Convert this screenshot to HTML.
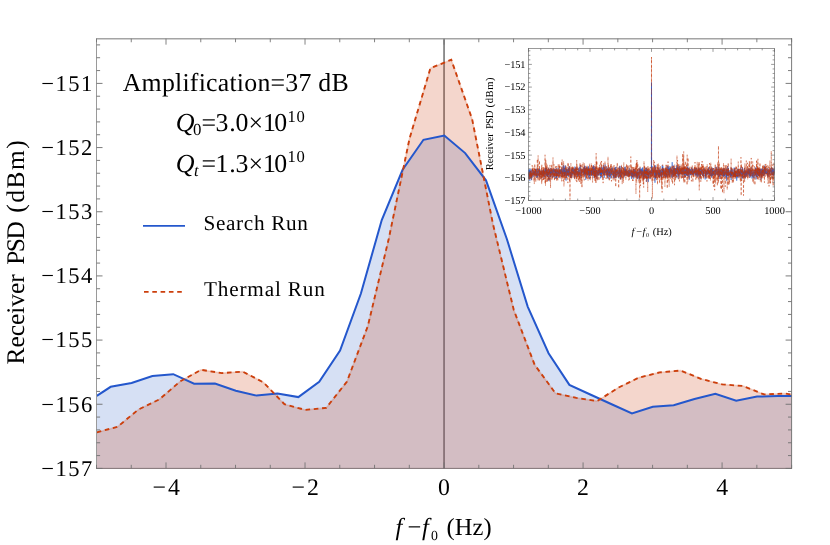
<!DOCTYPE html>
<html><head><meta charset="utf-8"><title>Receiver PSD</title>
<style>html,body{margin:0;padding:0;background:#fff;}body{width:830px;height:545px;overflow:hidden;font-family:"Liberation Serif",serif;}svg{display:block;text-rendering:geometricPrecision;}</style></head>
<body>
<div style="will-change:transform;width:830px;height:545px;">
<svg width="830" height="545" viewBox="0 0 830 545">
<rect x="0" y="0" width="830" height="545" fill="#ffffff"/>
<line x1="444.05" y1="38.65" x2="444.05" y2="468.4" stroke="#6e6e6e" stroke-width="1.5"/>
<polygon points="96.80,395.80 110.70,386.80 131.55,383.00 152.40,376.00 173.25,374.20 194.10,383.70 214.95,383.50 235.80,390.70 256.65,395.60 277.50,393.40 298.35,397.10 319.20,381.90 340.05,350.50 360.90,293.50 381.75,220.00 402.60,169.80 423.45,139.80 444.30,135.50 465.15,153.10 486.00,180.30 506.85,239.00 527.70,306.60 548.55,353.20 569.40,384.90 590.25,394.50 611.10,404.00 631.95,413.50 652.80,406.70 673.65,405.30 694.50,399.00 715.35,393.70 736.20,400.70 757.05,396.60 777.90,396.10 791.70,396.10 791.70,468.40 96.80,468.40" fill="#3264c8" fill-opacity="0.2" stroke="none"/>
<polygon points="96.80,432.40 117.65,426.70 138.50,409.50 159.35,399.40 180.20,381.40 201.05,369.80 221.90,373.10 242.75,371.60 263.60,382.50 284.45,404.20 305.30,409.90 326.15,407.90 347.00,381.50 367.85,326.00 388.70,239.00 409.55,138.50 430.40,68.30 451.25,59.70 472.10,119.00 492.95,224.00 513.80,310.00 534.65,364.80 555.50,393.30 576.35,397.90 597.20,401.10 618.05,387.80 638.90,377.60 659.75,372.40 680.60,370.50 701.45,379.00 722.30,384.40 743.15,386.00 764.00,394.40 784.85,393.50 791.70,394.50 791.70,468.40 96.80,468.40" fill="#cc3f0c" fill-opacity="0.21" stroke="none"/>
<polyline points="96.80,395.80 110.70,386.80 131.55,383.00 152.40,376.00 173.25,374.20 194.10,383.70 214.95,383.50 235.80,390.70 256.65,395.60 277.50,393.40 298.35,397.10 319.20,381.90 340.05,350.50 360.90,293.50 381.75,220.00 402.60,169.80 423.45,139.80 444.30,135.50 465.15,153.10 486.00,180.30 506.85,239.00 527.70,306.60 548.55,353.20 569.40,384.90 590.25,394.50 611.10,404.00 631.95,413.50 652.80,406.70 673.65,405.30 694.50,399.00 715.35,393.70 736.20,400.70 757.05,396.60 777.90,396.10 791.70,396.10" fill="none" stroke="#2457cc" stroke-width="2" stroke-linejoin="miter"/>
<polyline points="96.80,432.40 117.65,426.70 138.50,409.50 159.35,399.40 180.20,381.40 201.05,369.80 221.90,373.10 242.75,371.60 263.60,382.50 284.45,404.20 305.30,409.90 326.15,407.90 347.00,381.50 367.85,326.00 388.70,239.00 409.55,138.50 430.40,68.30 451.25,59.70 472.10,119.00 492.95,224.00 513.80,310.00 534.65,364.80 555.50,393.30 576.35,397.90 597.20,401.10 618.05,387.80 638.90,377.60 659.75,372.40 680.60,370.50 701.45,379.00 722.30,384.40 743.15,386.00 764.00,394.40 784.85,393.50 791.70,394.50" fill="none" stroke="#cc3f0c" stroke-opacity="0.18" stroke-width="1.6" stroke-linejoin="round"/>
<polyline points="96.80,432.40 117.65,426.70 138.50,409.50 159.35,399.40 180.20,381.40 201.05,369.80 221.90,373.10 242.75,371.60 263.60,382.50 284.45,404.20 305.30,409.90 326.15,407.90 347.00,381.50 367.85,326.00 388.70,239.00 409.55,138.50 430.40,68.30 451.25,59.70 472.10,119.00 492.95,224.00 513.80,310.00 534.65,364.80 555.50,393.30 576.35,397.90 597.20,401.10 618.05,387.80 638.90,377.60 659.75,372.40 680.60,370.50 701.45,379.00 722.30,384.40 743.15,386.00 764.00,394.40 784.85,393.50 791.70,394.50" fill="none" stroke="#cc3f0c" stroke-width="1.85" stroke-dasharray="4.6 3.7" stroke-linejoin="miter"/>
<line x1="96.5" y1="38.15" x2="96.5" y2="468.79999999999995" stroke="#9a9a9a" stroke-width="1"/>
<line x1="96.0" y1="38.699999999999996" x2="792.0" y2="38.699999999999996" stroke="#a4a4a4" stroke-width="1.4"/>
<line x1="791.6" y1="38.15" x2="791.6" y2="468.79999999999995" stroke="#6c6c6c" stroke-width="0.9"/>
<line x1="96.0" y1="468.4" x2="792.0" y2="468.4" stroke="#74666a" stroke-width="0.9"/>
<path d="M96.50,468.4v-3.6M96.50,38.65v3.6M131.25,468.4v-3.6M131.25,38.65v3.6M166.01,468.4v-6.0M166.01,38.65v6.0M200.77,468.4v-3.6M200.77,38.65v3.6M235.52,468.4v-3.6M235.52,38.65v3.6M270.27,468.4v-3.6M270.27,38.65v3.6M305.03,468.4v-6.0M305.03,38.65v6.0M339.78,468.4v-3.6M339.78,38.65v3.6M374.54,468.4v-3.6M374.54,38.65v3.6M409.30,468.4v-3.6M409.30,38.65v3.6M444.05,468.4v-6.0M444.05,38.65v6.0M478.81,468.4v-3.6M478.81,38.65v3.6M513.56,468.4v-3.6M513.56,38.65v3.6M548.32,468.4v-3.6M548.32,38.65v3.6M583.07,468.4v-6.0M583.07,38.65v6.0M617.83,468.4v-3.6M617.83,38.65v3.6M652.58,468.4v-3.6M652.58,38.65v3.6M687.34,468.4v-3.6M687.34,38.65v3.6M722.09,468.4v-6.0M722.09,38.65v6.0M756.85,468.4v-3.6M756.85,38.65v3.6M791.60,468.4v-3.6M791.60,38.65v3.6" fill="none" stroke="#747474" stroke-width="0.9"/>
<path d="M96.5,468.42h6.0M791.6,468.42h-6.0M96.5,455.59h3.6M791.6,455.59h-3.6M96.5,442.75h3.6M791.6,442.75h-3.6M96.5,429.92h3.6M791.6,429.92h-3.6M96.5,417.08h3.6M791.6,417.08h-3.6M96.5,404.25h6.0M791.6,404.25h-6.0M96.5,391.42h3.6M791.6,391.42h-3.6M96.5,378.58h3.6M791.6,378.58h-3.6M96.5,365.75h3.6M791.6,365.75h-3.6M96.5,352.91h3.6M791.6,352.91h-3.6M96.5,340.08h6.0M791.6,340.08h-6.0M96.5,327.25h3.6M791.6,327.25h-3.6M96.5,314.41h3.6M791.6,314.41h-3.6M96.5,301.58h3.6M791.6,301.58h-3.6M96.5,288.74h3.6M791.6,288.74h-3.6M96.5,275.91h6.0M791.6,275.91h-6.0M96.5,263.08h3.6M791.6,263.08h-3.6M96.5,250.24h3.6M791.6,250.24h-3.6M96.5,237.41h3.6M791.6,237.41h-3.6M96.5,224.57h3.6M791.6,224.57h-3.6M96.5,211.74h6.0M791.6,211.74h-6.0M96.5,198.91h3.6M791.6,198.91h-3.6M96.5,186.07h3.6M791.6,186.07h-3.6M96.5,173.24h3.6M791.6,173.24h-3.6M96.5,160.40h3.6M791.6,160.40h-3.6M96.5,147.57h6.0M791.6,147.57h-6.0M96.5,134.74h3.6M791.6,134.74h-3.6M96.5,121.90h3.6M791.6,121.90h-3.6M96.5,109.07h3.6M791.6,109.07h-3.6M96.5,96.23h3.6M791.6,96.23h-3.6M96.5,83.40h6.0M791.6,83.40h-6.0M96.5,70.57h3.6M791.6,70.57h-3.6M96.5,57.73h3.6M791.6,57.73h-3.6M96.5,44.90h3.6M791.6,44.90h-3.6" fill="none" stroke="#747474" stroke-width="0.95"/>
<text x="92.3" y="475.72" font-family='"Liberation Serif", serif' font-size="22.6" text-anchor="end" textLength="51" lengthAdjust="spacing" fill="#000">−157</text>
<text x="92.3" y="411.55" font-family='"Liberation Serif", serif' font-size="22.6" text-anchor="end" textLength="51" lengthAdjust="spacing" fill="#000">−156</text>
<text x="92.3" y="347.38" font-family='"Liberation Serif", serif' font-size="22.6" text-anchor="end" textLength="51" lengthAdjust="spacing" fill="#000">−155</text>
<text x="92.3" y="283.21" font-family='"Liberation Serif", serif' font-size="22.6" text-anchor="end" textLength="51" lengthAdjust="spacing" fill="#000">−154</text>
<text x="92.3" y="219.04" font-family='"Liberation Serif", serif' font-size="22.6" text-anchor="end" textLength="51" lengthAdjust="spacing" fill="#000">−153</text>
<text x="92.3" y="154.87" font-family='"Liberation Serif", serif' font-size="22.6" text-anchor="end" textLength="51" lengthAdjust="spacing" fill="#000">−152</text>
<text x="92.3" y="90.70" font-family='"Liberation Serif", serif' font-size="22.6" text-anchor="end" textLength="51" lengthAdjust="spacing" fill="#000">−151</text>
<text x="152.51 168.01" y="495.2" font-family='"Liberation Serif", serif' font-size="23.8" fill="#000">−4</text>
<text x="291.53 307.03" y="495.2" font-family='"Liberation Serif", serif' font-size="23.8" fill="#000">−2</text>
<text x="444.05" y="495.2" font-family='"Liberation Serif", serif' font-size="23.8" text-anchor="middle" fill="#000">0</text>
<text x="583.07" y="495.2" font-family='"Liberation Serif", serif' font-size="23.8" text-anchor="middle" fill="#000">2</text>
<text x="722.09" y="495.2" font-family='"Liberation Serif", serif' font-size="23.8" text-anchor="middle" fill="#000">4</text>
<g font-family='"Liberation Serif", serif' fill="#000"><text x="395.4" y="535.4" font-size="24.5" font-style="italic">f</text><text x="407.4" y="535.4" font-size="24.5">−</text><text x="422.0" y="535.4" font-size="24.5" font-style="italic">f</text><text x="431.0" y="539.7" font-size="13.8">0</text><text x="446.6" y="535.4" font-size="24.5" textLength="45" lengthAdjust="spacing">(Hz)</text></g>
<g transform="translate(23.8,364.4) rotate(-90)" font-family='"Liberation Serif", serif' font-size="25.4" fill="#000"><text x="0" y="0" textLength="90" lengthAdjust="spacing">Receiver</text><text x="99.6" y="0" textLength="43.6" lengthAdjust="spacing">PSD</text><text x="151.6" y="0" textLength="72.6" lengthAdjust="spacing">(dBm)</text></g>
<text x="122.7" y="91" font-family='"Liberation Serif", serif' font-size="25.8" textLength="226" lengthAdjust="spacing" fill="#000">Amplification=37 dB</text>
<g font-family='"Liberation Serif", serif' fill="#000"><text x="175.8" y="130.8" font-size="26" font-style="italic">Q</text><text x="192.9" y="135.4" font-size="16.8">0</text><text x="201.6 215.5 229.3 235.4 248.4 263.0 274.2" y="130.8" font-size="25.8">=3.0×10</text><text x="287.6 296.6" y="121.6" font-size="16.6">10</text></g>
<g font-family='"Liberation Serif", serif' fill="#000"><text x="175.8" y="171.5" font-size="26" font-style="italic">Q</text><text x="194.0" y="176.1" font-size="16.5" font-style="italic">t</text><text x="201.6 215.5 229.3 235.4 248.4 263.0 274.2" y="171.5" font-size="25.8">=1.3×10</text><text x="287.6 296.6" y="162.3" font-size="16.6">10</text></g>
<line x1="143" y1="225.9" x2="185" y2="225.9" stroke="#2457cc" stroke-width="1.9"/>
<text x="203.4" y="229.6" font-family='"Liberation Serif", serif' font-size="21.2" textLength="104.5" lengthAdjust="spacing" fill="#000">Search Run</text>
<line x1="144" y1="291.8" x2="185" y2="291.8" stroke="#cc3f0c" stroke-width="1.7" stroke-dasharray="4.6 3.7"/>
<text x="204" y="296.2" font-family='"Liberation Serif", serif' font-size="21.2" textLength="120.8" lengthAdjust="spacing" fill="#000">Thermal Run</text>
<polyline points="528.50,178.39 528.61,173.31 528.72,174.27 528.84,176.49 528.95,169.92 529.06,174.50 529.17,168.96 529.28,178.77 529.39,170.35 529.51,174.78 529.62,173.95 529.73,175.45 529.84,180.89 529.95,171.51 530.07,178.46 530.18,171.05 530.29,175.42 530.40,174.75 530.51,172.82 530.62,171.10 530.74,175.38 530.85,168.78 530.96,174.09 531.07,178.11 531.18,170.32 531.30,171.33 531.41,177.27 531.52,180.14 531.63,173.47 531.74,176.59 531.85,177.37 531.97,174.39 532.08,177.50 532.19,170.80 532.30,171.09 532.41,169.03 532.53,171.38 532.64,171.35 532.75,174.86 532.86,172.48 532.97,172.00 533.08,172.63 533.20,173.21 533.31,174.73 533.42,172.79 533.53,172.97 533.64,174.58 533.76,176.65 533.87,170.35 533.98,172.91 534.09,171.32 534.20,174.09 534.31,171.74 534.43,175.55 534.54,171.05 534.65,172.77 534.76,172.56 534.87,173.97 534.99,171.74 535.10,171.79 535.21,171.95 535.32,175.12 535.43,170.78 535.54,168.91 535.66,170.94 535.77,175.65 535.88,175.55 535.99,174.16 536.10,172.90 536.22,169.04 536.33,172.61 536.44,177.74 536.55,175.63 536.66,173.48 536.77,168.72 536.89,168.69 537.00,174.10 537.11,175.70 537.22,176.80 537.33,170.56 537.45,171.56 537.56,177.83 537.67,177.66 537.78,175.63 537.89,174.41 538.00,173.11 538.12,171.75 538.23,175.13 538.34,174.16 538.45,174.57 538.56,175.34 538.68,172.68 538.79,169.74 538.90,172.41 539.01,168.52 539.12,172.30 539.23,169.11 539.35,170.59 539.46,177.21 539.57,173.63 539.68,174.69 539.79,169.48 539.91,175.38 540.02,173.68 540.13,172.15 540.24,172.60 540.35,174.44 540.46,173.98 540.58,173.23 540.69,174.24 540.80,173.34 540.91,174.98 541.02,171.30 541.14,171.93 541.25,178.49 541.36,170.37 541.47,171.96 541.58,171.76 541.69,174.85 541.81,173.11 541.92,171.70 542.03,172.44 542.14,174.99 542.25,172.70 542.37,171.19 542.48,170.07 542.59,174.12 542.70,172.28 542.81,175.27 542.92,171.58 543.04,171.80 543.15,173.58 543.26,171.45 543.37,172.26 543.48,170.37 543.60,175.41 543.71,170.74 543.82,170.62 543.93,178.68 544.04,170.84 544.15,172.45 544.27,172.45 544.38,171.06 544.49,172.14 544.60,172.85 544.71,176.61 544.83,174.12 544.94,168.45 545.05,171.15 545.16,171.45 545.27,169.78 545.38,175.60 545.50,172.20 545.61,168.16 545.72,169.63 545.83,172.81 545.94,171.12 546.06,167.31 546.17,171.63 546.28,168.79 546.39,171.78 546.50,175.59 546.61,169.96 546.73,175.49 546.84,169.68 546.95,169.84 547.06,175.17 547.17,176.52 547.29,171.43 547.40,176.59 547.51,172.92 547.62,176.75 547.73,171.70 547.84,173.79 547.96,171.55 548.07,169.66 548.18,174.94 548.29,175.14 548.40,173.74 548.52,180.70 548.63,167.91 548.74,173.06 548.85,172.27 548.96,173.96 549.07,171.71 549.19,168.94 549.30,173.50 549.41,173.50 549.52,170.95 549.63,176.06 549.75,180.24 549.86,170.53 549.97,174.20 550.08,172.93 550.19,172.85 550.30,174.05 550.42,171.29 550.53,172.71 550.64,176.71 550.75,167.97 550.86,177.12 550.98,170.30 551.09,173.27 551.20,171.37 551.31,172.18 551.42,172.41 551.53,169.68 551.65,172.36 551.76,172.65 551.87,172.12 551.98,175.10 552.09,171.70 552.21,172.17 552.32,173.63 552.43,169.51 552.54,171.58 552.65,176.42 552.76,177.62 552.88,169.33 552.99,171.43 553.10,171.71 553.21,169.63 553.32,173.02 553.44,173.90 553.55,175.15 553.66,177.21 553.77,168.64 553.88,170.20 553.99,172.05 554.11,169.81 554.22,174.97 554.33,175.20 554.44,170.80 554.55,170.50 554.67,170.75 554.78,169.19 554.89,170.84 555.00,171.49 555.11,171.12 555.22,178.57 555.34,169.70 555.45,173.57 555.56,170.49 555.67,171.27 555.78,173.53 555.90,171.99 556.01,174.54 556.12,168.18 556.23,169.46 556.34,168.72 556.45,178.55 556.57,170.64 556.68,171.00 556.79,177.83 556.90,173.15 557.01,176.58 557.13,175.04 557.24,174.33 557.35,173.92 557.46,174.63 557.57,170.36 557.68,170.11 557.80,175.19 557.91,175.94 558.02,172.12 558.13,172.76 558.24,167.65 558.36,173.19 558.47,174.18 558.58,173.33 558.69,170.95 558.80,175.75 558.91,172.35 559.03,173.06 559.14,173.93 559.25,171.41 559.36,170.10 559.47,170.96 559.59,172.02 559.70,175.34 559.81,178.18 559.92,170.07 560.03,172.76 560.14,169.50 560.26,173.70 560.37,169.46 560.48,174.05 560.59,172.81 560.70,171.79 560.82,172.10 560.93,173.87 561.04,170.02 561.15,171.87 561.26,173.40 561.37,171.93 561.49,168.96 561.60,170.38 561.71,176.92 561.82,173.60 561.93,168.49 562.05,171.66 562.16,173.45 562.27,176.86 562.38,171.20 562.49,171.53 562.60,170.50 562.72,175.25 562.83,166.49 562.94,169.90 563.05,175.79 563.16,176.49 563.28,171.49 563.39,169.11 563.50,170.39 563.61,168.66 563.72,164.84 563.83,173.98 563.95,170.58 564.06,174.07 564.17,166.44 564.28,172.73 564.39,176.03 564.51,171.84 564.62,167.86 564.73,175.38 564.84,171.54 564.95,176.01 565.06,171.06 565.18,173.18 565.29,173.30 565.40,165.69 565.51,175.35 565.62,170.68 565.74,174.50 565.85,175.26 565.96,174.96 566.07,180.63 566.18,170.93 566.29,172.81 566.41,169.11 566.52,172.17 566.63,170.10 566.74,176.46 566.85,168.63 566.97,174.87 567.08,172.58 567.19,175.73 567.30,173.62 567.41,171.73 567.52,169.30 567.64,174.85 567.75,170.14 567.86,170.60 567.97,175.61 568.08,174.00 568.20,169.07 568.31,171.61 568.42,170.75 568.53,176.80 568.64,167.46 568.75,170.54 568.87,172.41 568.98,174.77 569.09,171.65 569.20,170.68 569.31,166.29 569.43,171.45 569.54,167.27 569.65,174.68 569.76,170.74 569.87,171.80 569.98,171.75 570.10,174.55 570.21,172.22 570.32,171.84 570.43,177.79 570.54,172.41 570.66,171.99 570.77,173.00 570.88,174.30 570.99,176.32 571.10,174.80 571.21,177.99 571.33,171.99 571.44,168.57 571.55,174.08 571.66,177.63 571.77,169.69 571.89,173.09 572.00,175.26 572.11,171.52 572.22,168.21 572.33,168.86 572.44,174.49 572.56,171.20 572.67,168.13 572.78,169.81 572.89,172.64 573.00,173.10 573.12,170.17 573.23,168.28 573.34,174.13 573.45,172.78 573.56,172.67 573.67,170.25 573.79,173.37 573.90,168.79 574.01,173.43 574.12,170.02 574.23,175.86 574.35,177.69 574.46,172.63 574.57,174.99 574.68,173.90 574.79,173.43 574.90,166.57 575.02,177.51 575.13,173.69 575.24,168.58 575.35,169.28 575.46,173.73 575.58,173.01 575.69,169.87 575.80,173.67 575.91,174.89 576.02,167.64 576.13,173.07 576.25,172.68 576.36,171.88 576.47,171.72 576.58,169.18 576.69,168.40 576.81,174.70 576.92,172.24 577.03,171.63 577.14,175.14 577.25,176.52 577.36,176.42 577.48,171.13 577.59,173.88 577.70,171.75 577.81,176.53 577.92,173.11 578.04,171.71 578.15,171.82 578.26,174.19 578.37,173.53 578.48,168.11 578.59,171.76 578.71,173.08 578.82,175.41 578.93,172.28 579.04,170.07 579.15,175.19 579.27,174.69 579.38,168.30 579.49,166.63 579.60,168.77 579.71,170.20 579.82,169.99 579.94,176.12 580.05,172.56 580.16,173.15 580.27,173.91 580.38,171.62 580.50,169.64 580.61,165.21 580.72,174.73 580.83,177.74 580.94,174.81 581.05,175.88 581.17,176.04 581.28,169.44 581.39,171.59 581.50,171.33 581.61,172.89 581.73,171.42 581.84,173.30 581.95,173.70 582.06,169.39 582.17,170.31 582.28,168.90 582.40,171.14 582.51,172.44 582.62,172.15 582.73,171.70 582.84,171.14 582.96,172.24 583.07,170.37 583.18,170.07 583.29,172.79 583.40,175.14 583.51,168.09 583.63,170.74 583.74,171.29 583.85,170.97 583.96,173.17 584.07,167.40 584.19,174.50 584.30,175.77 584.41,167.65 584.52,166.17 584.63,173.63 584.74,170.58 584.86,173.71 584.97,165.84 585.08,172.83 585.19,169.88 585.30,175.45 585.42,171.35 585.53,167.71 585.64,170.33 585.75,179.83 585.86,174.39 585.97,172.87 586.09,173.88 586.20,171.65 586.31,174.30 586.42,172.26 586.53,173.54 586.65,172.94 586.76,167.01 586.87,170.29 586.98,168.99 587.09,175.00 587.20,169.81 587.32,171.42 587.43,171.97 587.54,175.22 587.65,173.74 587.76,168.66 587.88,174.21 587.99,169.32 588.10,167.64 588.21,175.12 588.32,168.62 588.43,166.27 588.55,175.37 588.66,177.74 588.77,169.75 588.88,169.25 588.99,170.19 589.11,173.57 589.22,168.53 589.33,173.64 589.44,176.06 589.55,169.93 589.66,179.28 589.78,176.50 589.89,175.29 590.00,170.14 590.11,171.13 590.22,170.73 590.34,172.82 590.45,170.37 590.56,173.96 590.67,174.58 590.78,171.52 590.89,173.58 591.01,169.99 591.12,172.48 591.23,175.53 591.34,168.67 591.45,175.55 591.57,173.24 591.68,172.00 591.79,170.09 591.90,173.10 592.01,171.04 592.12,170.75 592.24,171.46 592.35,167.65 592.46,175.34 592.57,166.82 592.68,172.33 592.80,173.73 592.91,172.10 593.02,175.06 593.13,169.50 593.24,171.13 593.35,172.55 593.47,165.24 593.58,172.52 593.69,173.91 593.80,166.38 593.91,169.66 594.03,178.06 594.14,167.21 594.25,174.32 594.36,171.56 594.47,172.94 594.58,176.80 594.70,168.18 594.81,176.70 594.92,171.70 595.03,174.22 595.14,172.41 595.26,173.21 595.37,176.03 595.48,166.72 595.59,177.00 595.70,173.44 595.81,171.71 595.93,173.26 596.04,170.21 596.15,171.90 596.26,177.36 596.37,170.01 596.49,171.83 596.60,170.88 596.71,172.61 596.82,169.78 596.93,179.10 597.04,172.01 597.16,173.37 597.27,174.87 597.38,171.71 597.49,173.55 597.60,173.08 597.72,170.44 597.83,170.20 597.94,171.83 598.05,175.81 598.16,171.56 598.27,171.70 598.39,170.57 598.50,175.13 598.61,173.45 598.72,170.35 598.83,172.64 598.95,169.58 599.06,171.18 599.17,169.92 599.28,174.70 599.39,169.18 599.50,173.05 599.62,173.43 599.73,166.93 599.84,172.56 599.95,168.03 600.06,172.12 600.18,175.61 600.29,171.97 600.40,173.31 600.51,169.85 600.62,178.31 600.73,174.85 600.85,170.41 600.96,174.11 601.07,173.27 601.18,175.23 601.29,171.84 601.41,172.18 601.52,177.11 601.63,166.90 601.74,172.87 601.85,171.61 601.96,171.23 602.08,171.23 602.19,171.14 602.30,169.94 602.41,167.61 602.52,173.28 602.64,170.26 602.75,169.83 602.86,174.10 602.97,173.76 603.08,172.56 603.19,172.54 603.31,173.54 603.42,165.39 603.53,175.00 603.64,172.32 603.75,170.88 603.87,172.02 603.98,167.43 604.09,173.07 604.20,177.89 604.31,173.19 604.42,175.38 604.54,173.18 604.65,171.61 604.76,173.77 604.87,170.44 604.98,167.77 605.10,164.48 605.21,172.70 605.32,172.89 605.43,172.03 605.54,171.32 605.65,170.34 605.77,172.03 605.88,171.64 605.99,173.04 606.10,170.02 606.21,171.98 606.33,168.71 606.44,170.26 606.55,175.09 606.66,173.95 606.77,166.81 606.88,173.68 607.00,174.36 607.11,173.40 607.22,171.63 607.33,175.21 607.44,169.93 607.56,177.21 607.67,168.79 607.78,170.65 607.89,169.95 608.00,172.50 608.11,178.88 608.23,169.12 608.34,171.96 608.45,175.09 608.56,175.72 608.67,168.91 608.79,171.88 608.90,166.93 609.01,168.41 609.12,169.38 609.23,173.76 609.34,169.84 609.46,177.06 609.57,171.74 609.68,172.12 609.79,173.68 609.90,174.44 610.02,171.80 610.13,174.57 610.24,176.36 610.35,175.32 610.46,168.86 610.57,170.84 610.69,176.30 610.80,178.54 610.91,174.25 611.02,174.44 611.13,168.57 611.25,170.70 611.36,170.37 611.47,175.20 611.58,168.09 611.69,170.87 611.80,171.08 611.92,171.44 612.03,173.42 612.14,172.90 612.25,171.35 612.36,167.42 612.48,168.27 612.59,169.71 612.70,174.75 612.81,174.04 612.92,174.61 613.03,171.33 613.15,176.03 613.26,178.00 613.37,173.89 613.48,170.62 613.59,176.50 613.71,174.33 613.82,175.88 613.93,172.10 614.04,174.79 614.15,178.05 614.26,173.26 614.38,172.01 614.49,172.91 614.60,170.84 614.71,168.34 614.82,171.40 614.94,176.64 615.05,172.99 615.16,166.91 615.27,171.64 615.38,178.12 615.49,169.32 615.61,171.22 615.72,172.72 615.83,169.45 615.94,167.03 616.05,177.86 616.17,175.36 616.28,169.50 616.39,171.40 616.50,170.08 616.61,171.47 616.72,172.35 616.84,175.68 616.95,171.95 617.06,172.78 617.17,171.62 617.28,170.84 617.40,171.66 617.51,170.96 617.62,172.81 617.73,173.52 617.84,172.01 617.95,177.05 618.07,176.26 618.18,169.93 618.29,172.14 618.40,174.01 618.51,173.00 618.63,172.58 618.74,173.25 618.85,172.94 618.96,178.38 619.07,173.99 619.18,167.03 619.30,175.94 619.41,174.22 619.52,169.13 619.63,173.37 619.74,165.81 619.86,169.02 619.97,173.61 620.08,170.02 620.19,171.19 620.30,172.82 620.41,177.55 620.53,170.67 620.64,171.46 620.75,175.54 620.86,171.22 620.97,179.29 621.09,172.51 621.20,166.21 621.31,171.76 621.42,177.20 621.53,172.48 621.64,171.23 621.76,172.42 621.87,169.69 621.98,171.52 622.09,172.97 622.20,173.51 622.32,172.63 622.43,172.68 622.54,172.14 622.65,172.49 622.76,174.03 622.87,174.96 622.99,172.67 623.10,173.95 623.21,174.09 623.32,173.18 623.43,171.58 623.55,173.82 623.66,173.23 623.77,172.91 623.88,177.69 623.99,171.17 624.10,169.57 624.22,172.84 624.33,175.45 624.44,174.02 624.55,175.57 624.66,173.98 624.78,167.33 624.89,168.55 625.00,174.31 625.11,166.75 625.22,174.98 625.33,169.62 625.45,175.72 625.56,169.89 625.67,173.68 625.78,172.31 625.89,169.30 626.01,169.82 626.12,174.45 626.23,170.96 626.34,170.20 626.45,175.87 626.56,173.67 626.68,171.68 626.79,170.69 626.90,171.15 627.01,172.56 627.12,170.89 627.24,170.56 627.35,172.41 627.46,171.22 627.57,171.11 627.68,176.07 627.79,172.36 627.91,174.48 628.02,176.09 628.13,171.76 628.24,174.71 628.35,172.83 628.47,170.00 628.58,174.72 628.69,173.46 628.80,173.18 628.91,173.19 629.02,176.41 629.14,175.66 629.25,168.11 629.36,175.60 629.47,171.42 629.58,171.96 629.70,171.36 629.81,177.16 629.92,174.63 630.03,173.88 630.14,172.88 630.25,173.26 630.37,172.77 630.48,174.88 630.59,171.76 630.70,171.85 630.81,169.98 630.93,172.93 631.04,172.65 631.15,169.68 631.26,174.05 631.37,172.79 631.48,178.82 631.60,170.81 631.71,173.76 631.82,176.09 631.93,174.03 632.04,172.96 632.16,176.36 632.27,171.76 632.38,176.66 632.49,172.33 632.60,172.33 632.71,172.73 632.83,176.76 632.94,172.82 633.05,173.82 633.16,168.68 633.27,172.56 633.39,171.19 633.50,176.42 633.61,173.09 633.72,178.87 633.83,170.60 633.94,172.41 634.06,169.26 634.17,172.28 634.28,175.78 634.39,172.82 634.50,169.24 634.62,174.40 634.73,175.66 634.84,173.38 634.95,175.32 635.06,172.26 635.17,171.67 635.29,175.60 635.40,173.16 635.51,169.32 635.62,175.16 635.73,177.28 635.85,172.76 635.96,171.67 636.07,175.30 636.18,173.59 636.29,175.29 636.40,173.39 636.52,171.47 636.63,177.43 636.74,173.13 636.85,177.60 636.96,173.25 637.08,172.09 637.19,173.81 637.30,172.34 637.41,179.07 637.52,176.96 637.63,169.25 637.75,174.37 637.86,174.15 637.97,171.84 638.08,173.94 638.19,174.83 638.31,172.09 638.42,173.17 638.53,176.06 638.64,175.94 638.75,177.83 638.86,173.76 638.98,168.58 639.09,176.24 639.20,179.60 639.31,174.76 639.42,176.22 639.54,178.18 639.65,170.55 639.76,173.51 639.87,173.60 639.98,167.55 640.09,172.31 640.21,168.64 640.32,170.88 640.43,170.20 640.54,169.90 640.65,172.11 640.77,175.59 640.88,170.94 640.99,172.78 641.10,170.76 641.21,171.93 641.32,169.61 641.44,175.84 641.55,170.08 641.66,168.98 641.77,174.24 641.88,173.54 642.00,175.01 642.11,167.96 642.22,176.46 642.33,177.74 642.44,170.06 642.55,170.48 642.67,169.56 642.78,167.35 642.89,173.10 643.00,171.49 643.11,173.75 643.23,170.45 643.34,170.11 643.45,171.98 643.56,179.12 643.67,176.12 643.78,176.62 643.90,171.36 644.01,179.42 644.12,174.17 644.23,177.06 644.34,169.86 644.46,171.80 644.57,174.34 644.68,170.12 644.79,174.88 644.90,172.58 645.01,175.83 645.13,174.74 645.24,177.45 645.35,169.55 645.46,171.54 645.57,170.57 645.69,169.69 645.80,171.85 645.91,167.71 646.02,175.26 646.13,171.75 646.24,175.14 646.36,169.45 646.47,170.45 646.58,172.83 646.69,181.88 646.80,167.98 646.92,170.27 647.03,172.69 647.14,173.19 647.25,170.26 647.36,175.22 647.47,171.84 647.59,174.76 647.70,171.02 647.81,177.99 647.92,171.89 648.03,169.88 648.15,173.95 648.26,178.92 648.37,181.85 648.48,172.37 648.59,177.85 648.70,173.17 648.82,176.74 648.93,171.86 649.04,169.78 649.15,175.01 649.26,175.12 649.38,170.86 649.49,172.70 649.60,173.85 649.71,171.41 649.82,172.00 649.93,171.80 650.05,173.70 650.16,174.55 650.27,178.66 650.38,175.96 650.49,173.96 650.61,171.17 650.72,173.12 650.83,171.99 650.94,175.58 651.05,171.12 651.16,170.53 651.28,173.81 651.39,173.15 651.50,82.54 651.61,171.88 651.72,169.42 651.84,171.15 651.95,173.25 652.06,176.09 652.17,166.24 652.28,170.65 652.39,172.36 652.51,175.69 652.62,174.66 652.73,174.85 652.84,172.19 652.95,170.67 653.07,174.29 653.18,173.33 653.29,172.33 653.40,171.13 653.51,169.68 653.62,169.31 653.74,172.97 653.85,173.26 653.96,170.62 654.07,170.38 654.18,172.50 654.30,172.63 654.41,171.83 654.52,165.65 654.63,169.50 654.74,177.18 654.85,172.29 654.97,182.74 655.08,173.23 655.19,179.12 655.30,177.26 655.41,170.47 655.53,177.76 655.64,165.36 655.75,172.95 655.86,174.52 655.97,175.24 656.08,178.23 656.20,172.48 656.31,174.11 656.42,170.94 656.53,176.70 656.64,173.31 656.76,170.72 656.87,175.22 656.98,170.63 657.09,169.96 657.20,172.28 657.31,172.28 657.43,173.08 657.54,174.29 657.65,169.97 657.76,174.04 657.87,174.30 657.99,173.78 658.10,175.77 658.21,167.48 658.32,169.79 658.43,172.54 658.54,177.07 658.66,172.15 658.77,174.33 658.88,171.70 658.99,176.86 659.10,177.47 659.22,169.76 659.33,169.92 659.44,175.11 659.55,172.00 659.66,177.84 659.77,173.25 659.89,168.48 660.00,174.48 660.11,175.00 660.22,170.80 660.33,176.20 660.45,170.14 660.56,171.10 660.67,172.59 660.78,175.44 660.89,172.24 661.00,172.01 661.12,174.73 661.23,177.12 661.34,169.80 661.45,177.16 661.56,173.35 661.68,171.86 661.79,173.37 661.90,172.13 662.01,177.99 662.12,174.45 662.23,165.21 662.35,173.92 662.46,167.54 662.57,167.06 662.68,172.06 662.79,175.09 662.91,166.29 663.02,172.49 663.13,171.76 663.24,171.82 663.35,168.95 663.46,174.67 663.58,168.97 663.69,171.12 663.80,171.97 663.91,172.19 664.02,172.51 664.14,174.13 664.25,174.48 664.36,175.84 664.47,173.57 664.58,176.40 664.69,171.78 664.81,170.65 664.92,169.49 665.03,170.33 665.14,171.09 665.25,173.13 665.37,168.74 665.48,173.05 665.59,177.20 665.70,173.60 665.81,175.26 665.92,173.37 666.04,171.50 666.15,170.29 666.26,177.36 666.37,174.65 666.48,172.84 666.60,171.67 666.71,171.24 666.82,166.47 666.93,177.36 667.04,173.70 667.15,175.55 667.27,171.97 667.38,172.28 667.49,171.93 667.60,171.17 667.71,166.05 667.83,170.22 667.94,170.29 668.05,175.84 668.16,173.97 668.27,169.19 668.38,172.32 668.50,170.75 668.61,167.48 668.72,175.00 668.83,168.75 668.94,172.26 669.06,167.65 669.17,166.24 669.28,172.81 669.39,174.81 669.50,176.96 669.61,168.35 669.73,175.07 669.84,175.46 669.95,171.08 670.06,171.14 670.17,173.37 670.29,170.40 670.40,166.60 670.51,169.28 670.62,168.78 670.73,172.55 670.84,170.14 670.96,177.33 671.07,176.66 671.18,176.04 671.29,169.85 671.40,170.86 671.52,169.47 671.63,173.04 671.74,169.23 671.85,170.95 671.96,171.18 672.07,177.82 672.19,162.20 672.30,175.23 672.41,170.05 672.52,174.13 672.63,171.18 672.75,170.10 672.86,170.52 672.97,170.46 673.08,171.46 673.19,177.08 673.30,174.67 673.42,172.15 673.53,173.12 673.64,165.41 673.75,176.31 673.86,174.30 673.98,168.08 674.09,175.19 674.20,173.72 674.31,175.03 674.42,167.72 674.53,174.15 674.65,175.07 674.76,171.10 674.87,174.51 674.98,172.23 675.09,175.62 675.21,169.49 675.32,173.61 675.43,170.33 675.54,168.20 675.65,174.15 675.76,168.12 675.88,172.94 675.99,177.67 676.10,176.69 676.21,172.29 676.32,168.42 676.44,172.77 676.55,171.05 676.66,165.18 676.77,170.13 676.88,174.05 676.99,172.55 677.11,172.54 677.22,173.62 677.33,170.18 677.44,168.61 677.55,173.54 677.67,171.30 677.78,165.91 677.89,176.58 678.00,170.23 678.11,173.35 678.22,178.70 678.34,176.64 678.45,173.64 678.56,167.31 678.67,174.00 678.78,174.96 678.90,171.96 679.01,167.58 679.12,175.83 679.23,169.85 679.34,173.74 679.45,174.19 679.57,168.40 679.68,165.97 679.79,171.88 679.90,174.39 680.01,169.90 680.13,174.07 680.24,170.01 680.35,171.85 680.46,171.68 680.57,172.35 680.68,174.10 680.80,171.81 680.91,168.84 681.02,169.25 681.13,169.53 681.24,169.38 681.36,170.11 681.47,174.44 681.58,168.55 681.69,173.04 681.80,171.22 681.91,170.27 682.03,168.46 682.14,171.99 682.25,174.06 682.36,172.76 682.47,171.91 682.59,169.68 682.70,171.01 682.81,177.36 682.92,168.10 683.03,173.05 683.14,170.69 683.26,171.73 683.37,172.02 683.48,172.90 683.59,174.45 683.70,170.23 683.82,167.37 683.93,170.32 684.04,174.12 684.15,166.54 684.26,169.39 684.37,173.16 684.49,175.33 684.60,170.45 684.71,172.29 684.82,174.35 684.93,177.93 685.05,173.97 685.16,171.07 685.27,169.53 685.38,173.47 685.49,174.25 685.60,169.14 685.72,169.34 685.83,171.18 685.94,168.58 686.05,175.91 686.16,170.22 686.28,174.85 686.39,170.00 686.50,170.10 686.61,173.11 686.72,175.36 686.83,173.27 686.95,167.81 687.06,166.66 687.17,174.04 687.28,175.95 687.39,168.52 687.51,175.64 687.62,171.21 687.73,173.93 687.84,166.57 687.95,169.18 688.06,172.96 688.18,173.88 688.29,172.18 688.40,176.89 688.51,167.97 688.62,174.17 688.74,170.36 688.85,170.55 688.96,172.91 689.07,170.32 689.18,170.07 689.29,179.75 689.41,168.63 689.52,171.24 689.63,173.63 689.74,173.34 689.85,171.19 689.97,171.22 690.08,168.86 690.19,169.20 690.30,170.16 690.41,175.22 690.52,169.63 690.64,174.75 690.75,174.36 690.86,174.00 690.97,171.31 691.08,172.65 691.20,171.91 691.31,172.58 691.42,168.81 691.53,173.26 691.64,173.79 691.75,175.24 691.87,170.63 691.98,170.27 692.09,167.21 692.20,168.95 692.31,171.83 692.43,173.24 692.54,169.34 692.65,174.92 692.76,172.33 692.87,172.03 692.98,169.23 693.10,173.53 693.21,174.54 693.32,174.29 693.43,170.70 693.54,171.56 693.66,173.74 693.77,172.14 693.88,170.97 693.99,172.54 694.10,175.43 694.21,168.90 694.33,169.67 694.44,170.67 694.55,173.50 694.66,171.10 694.77,168.98 694.89,167.89 695.00,172.33 695.11,168.70 695.22,172.17 695.33,172.16 695.44,174.51 695.56,171.05 695.67,174.30 695.78,173.69 695.89,174.50 696.00,175.60 696.12,168.04 696.23,170.64 696.34,175.20 696.45,172.46 696.56,169.99 696.67,168.25 696.79,175.25 696.90,174.11 697.01,173.28 697.12,171.08 697.23,177.23 697.35,170.74 697.46,170.55 697.57,169.79 697.68,171.01 697.79,174.39 697.90,170.96 698.02,170.41 698.13,176.61 698.24,167.79 698.35,168.86 698.46,173.81 698.58,170.22 698.69,175.28 698.80,169.71 698.91,171.12 699.02,174.76 699.13,174.25 699.25,169.63 699.36,170.79 699.47,168.17 699.58,171.05 699.69,174.24 699.81,175.72 699.92,171.10 700.03,179.40 700.14,169.20 700.25,171.62 700.36,176.43 700.48,171.96 700.59,171.69 700.70,174.61 700.81,172.74 700.92,173.40 701.04,168.69 701.15,174.22 701.26,170.87 701.37,172.06 701.48,170.01 701.59,172.76 701.71,173.25 701.82,172.25 701.93,172.69 702.04,172.38 702.15,173.61 702.27,169.63 702.38,170.95 702.49,171.81 702.60,175.84 702.71,173.85 702.82,176.05 702.94,171.80 703.05,171.21 703.16,171.95 703.27,171.42 703.38,172.00 703.50,177.04 703.61,174.96 703.72,169.37 703.83,170.34 703.94,168.94 704.05,174.13 704.17,172.97 704.28,171.45 704.39,168.19 704.50,169.45 704.61,172.09 704.73,173.78 704.84,173.97 704.95,176.29 705.06,175.06 705.17,179.46 705.28,177.41 705.40,173.49 705.51,170.17 705.62,175.61 705.73,170.91 705.84,175.15 705.96,174.63 706.07,174.85 706.18,178.41 706.29,170.27 706.40,170.58 706.51,170.61 706.63,174.95 706.74,170.76 706.85,174.29 706.96,173.07 707.07,171.78 707.19,173.89 707.30,174.34 707.41,172.82 707.52,169.97 707.63,169.60 707.74,170.57 707.86,173.70 707.97,173.86 708.08,169.04 708.19,172.82 708.30,167.16 708.42,167.68 708.53,172.64 708.64,173.33 708.75,173.86 708.86,168.82 708.97,175.66 709.09,172.09 709.20,171.99 709.31,170.77 709.42,172.43 709.53,173.23 709.65,172.40 709.76,175.23 709.87,175.60 709.98,170.02 710.09,172.81 710.20,173.41 710.32,176.06 710.43,168.90 710.54,169.97 710.65,172.20 710.76,173.15 710.88,168.91 710.99,175.63 711.10,172.88 711.21,175.50 711.32,173.85 711.43,173.65 711.55,176.15 711.66,173.31 711.77,177.82 711.88,167.45 711.99,173.13 712.11,170.38 712.22,168.70 712.33,168.30 712.44,175.41 712.55,170.61 712.66,170.78 712.78,175.80 712.89,168.60 713.00,172.40 713.11,172.00 713.22,171.90 713.34,175.42 713.45,175.27 713.56,173.55 713.67,170.61 713.78,174.28 713.89,171.34 714.01,171.25 714.12,170.36 714.23,170.91 714.34,172.76 714.45,175.03 714.57,172.47 714.68,170.75 714.79,170.58 714.90,170.16 715.01,171.98 715.12,172.09 715.24,167.14 715.35,175.90 715.46,173.57 715.57,169.96 715.68,173.77 715.80,173.36 715.91,174.82 716.02,174.65 716.13,173.33 716.24,171.75 716.35,170.81 716.47,170.10 716.58,169.60 716.69,171.13 716.80,172.36 716.91,166.68 717.03,171.72 717.14,174.97 717.25,171.46 717.36,172.49 717.47,175.29 717.58,172.98 717.70,172.53 717.81,172.92 717.92,168.74 718.03,173.11 718.14,169.85 718.26,169.24 718.37,174.98 718.48,173.83 718.59,176.98 718.70,170.83 718.81,172.78 718.93,167.20 719.04,170.58 719.15,176.90 719.26,171.36 719.37,173.37 719.49,172.17 719.60,170.27 719.71,171.36 719.82,173.94 719.93,178.95 720.04,169.46 720.16,174.85 720.27,173.27 720.38,175.45 720.49,171.93 720.60,172.30 720.72,169.36 720.83,174.01 720.94,175.14 721.05,170.45 721.16,170.45 721.27,175.24 721.39,174.20 721.50,173.22 721.61,173.78 721.72,172.73 721.83,168.69 721.95,173.94 722.06,169.82 722.17,175.99 722.28,175.48 722.39,169.62 722.50,171.60 722.62,173.37 722.73,170.65 722.84,169.79 722.95,174.84 723.06,175.68 723.18,170.73 723.29,176.60 723.40,175.17 723.51,168.04 723.62,176.64 723.73,169.79 723.85,172.94 723.96,171.91 724.07,171.13 724.18,172.83 724.29,174.59 724.41,176.48 724.52,169.61 724.63,168.79 724.74,171.90 724.85,176.02 724.96,175.48 725.08,174.54 725.19,172.01 725.30,174.54 725.41,174.78 725.52,172.00 725.64,169.95 725.75,168.51 725.86,170.67 725.97,177.05 726.08,172.74 726.19,174.02 726.31,170.67 726.42,177.73 726.53,170.22 726.64,180.72 726.75,168.77 726.87,171.60 726.98,175.87 727.09,172.29 727.20,172.24 727.31,174.02 727.42,171.85 727.54,174.15 727.65,169.33 727.76,166.03 727.87,176.05 727.98,168.84 728.10,171.10 728.21,177.34 728.32,177.13 728.43,168.01 728.54,171.47 728.65,174.73 728.77,170.69 728.88,172.21 728.99,170.03 729.10,171.32 729.21,174.66 729.33,174.35 729.44,175.09 729.55,173.33 729.66,174.62 729.77,172.20 729.88,173.79 730.00,175.29 730.11,174.12 730.22,175.21 730.33,172.58 730.44,174.98 730.56,177.16 730.67,170.67 730.78,174.30 730.89,175.88 731.00,168.93 731.11,180.02 731.23,172.42 731.34,175.04 731.45,175.68 731.56,167.57 731.67,170.19 731.79,174.67 731.90,170.24 732.01,176.13 732.12,172.99 732.23,172.31 732.34,174.14 732.46,173.08 732.57,173.09 732.68,173.46 732.79,169.49 732.90,171.10 733.02,177.04 733.13,172.51 733.24,176.06 733.35,172.47 733.46,173.90 733.57,173.42 733.69,176.74 733.80,173.95 733.91,176.70 734.02,173.25 734.13,167.67 734.25,176.33 734.36,173.72 734.47,170.32 734.58,174.52 734.69,176.12 734.80,174.75 734.92,167.87 735.03,175.43 735.14,172.00 735.25,176.79 735.36,172.66 735.48,177.37 735.59,175.01 735.70,171.98 735.81,172.06 735.92,170.77 736.03,172.08 736.15,172.60 736.26,176.33 736.37,173.48 736.48,171.93 736.59,176.87 736.71,180.67 736.82,174.78 736.93,175.93 737.04,174.56 737.15,178.23 737.26,173.03 737.38,173.53 737.49,169.57 737.60,177.04 737.71,173.56 737.82,173.85 737.94,169.03 738.05,172.23 738.16,171.15 738.27,169.72 738.38,168.71 738.49,170.92 738.61,176.15 738.72,172.41 738.83,170.12 738.94,177.38 739.05,173.55 739.17,171.10 739.28,173.43 739.39,176.41 739.50,172.00 739.61,174.37 739.72,172.71 739.84,172.88 739.95,175.16 740.06,172.36 740.17,176.45 740.28,170.80 740.40,174.21 740.51,174.19 740.62,170.63 740.73,167.43 740.84,171.67 740.95,172.83 741.07,169.14 741.18,171.31 741.29,170.76 741.40,172.82 741.51,175.16 741.63,174.25 741.74,171.03 741.85,173.25 741.96,178.93 742.07,176.35 742.18,171.93 742.30,172.33 742.41,177.86 742.52,167.27 742.63,174.30 742.74,173.95 742.86,177.23 742.97,169.01 743.08,170.90 743.19,173.64 743.30,174.37 743.41,173.43 743.53,172.06 743.64,171.49 743.75,172.76 743.86,172.92 743.97,175.12 744.09,171.81 744.20,174.57 744.31,171.62 744.42,170.49 744.53,176.34 744.64,167.92 744.76,173.59 744.87,177.19 744.98,171.57 745.09,178.64 745.20,170.83 745.32,173.95 745.43,174.92 745.54,170.77 745.65,171.42 745.76,172.01 745.87,175.44 745.99,173.89 746.10,171.29 746.21,176.87 746.32,171.75 746.43,175.68 746.55,175.20 746.66,171.15 746.77,172.05 746.88,172.59 746.99,173.37 747.10,172.37 747.22,174.49 747.33,172.87 747.44,168.67 747.55,173.99 747.66,175.82 747.78,170.90 747.89,173.86 748.00,171.22 748.11,170.51 748.22,171.68 748.33,169.53 748.45,174.69 748.56,171.63 748.67,173.81 748.78,168.49 748.89,172.53 749.01,172.93 749.12,171.95 749.23,176.42 749.34,168.85 749.45,174.58 749.56,174.38 749.68,173.35 749.79,170.18 749.90,178.03 750.01,169.94 750.12,175.67 750.24,172.72 750.35,172.77 750.46,173.54 750.57,176.22 750.68,170.04 750.79,173.66 750.91,176.16 751.02,173.50 751.13,174.19 751.24,167.18 751.35,167.58 751.47,173.13 751.58,173.90 751.69,171.07 751.80,171.07 751.91,170.22 752.02,178.57 752.14,174.62 752.25,176.15 752.36,172.65 752.47,175.72 752.58,176.52 752.70,174.57 752.81,170.64 752.92,175.42 753.03,174.93 753.14,175.35 753.25,177.94 753.37,175.79 753.48,174.52 753.59,171.97 753.70,173.11 753.81,174.61 753.93,169.65 754.04,178.33 754.15,170.29 754.26,170.35 754.37,173.10 754.48,172.09 754.60,172.51 754.71,171.78 754.82,174.17 754.93,176.53 755.04,173.60 755.16,172.30 755.27,171.87 755.38,175.46 755.49,168.15 755.60,171.89 755.71,167.42 755.83,174.41 755.94,170.54 756.05,174.61 756.16,179.40 756.27,173.10 756.39,173.40 756.50,171.77 756.61,173.39 756.72,174.27 756.83,176.96 756.94,167.81 757.06,171.47 757.17,174.41 757.28,170.28 757.39,176.85 757.50,169.95 757.62,173.84 757.73,171.93 757.84,174.27 757.95,173.97 758.06,169.48 758.17,171.44 758.29,168.71 758.40,176.00 758.51,171.95 758.62,174.38 758.73,175.35 758.85,173.51 758.96,168.56 759.07,176.56 759.18,171.39 759.29,174.43 759.40,169.13 759.52,174.09 759.63,171.77 759.74,175.75 759.85,172.83 759.96,169.03 760.08,170.40 760.19,170.17 760.30,168.71 760.41,175.30 760.52,170.11 760.63,170.02 760.75,173.35 760.86,171.72 760.97,173.05 761.08,179.60 761.19,176.09 761.31,176.58 761.42,168.77 761.53,176.73 761.64,175.38 761.75,175.06 761.86,171.19 761.98,176.14 762.09,168.83 762.20,173.98 762.31,169.84 762.42,174.61 762.54,175.16 762.65,173.01 762.76,168.37 762.87,168.93 762.98,172.94 763.09,170.46 763.21,172.93 763.32,173.11 763.43,175.99 763.54,172.25 763.65,173.12 763.77,169.31 763.88,169.97 763.99,171.13 764.10,171.54 764.21,176.03 764.32,169.42 764.44,172.07 764.55,165.70 764.66,170.36 764.77,174.25 764.88,170.80 765.00,169.89 765.11,173.60 765.22,172.93 765.33,174.14 765.44,167.61 765.55,170.62 765.67,172.84 765.78,168.90 765.89,173.00 766.00,173.73 766.11,171.98 766.23,171.71 766.34,172.17 766.45,171.75 766.56,173.01 766.67,172.67 766.78,173.89 766.90,168.07 767.01,173.21 767.12,172.74 767.23,174.46 767.34,170.83 767.46,170.02 767.57,175.58 767.68,175.48 767.79,173.26 767.90,175.21 768.01,177.41 768.13,172.12 768.24,170.92 768.35,168.76 768.46,169.63 768.57,172.01 768.69,174.29 768.80,173.18 768.91,176.17 769.02,170.12 769.13,171.60 769.24,171.67 769.36,171.41 769.47,172.39 769.58,174.35 769.69,171.26 769.80,170.24 769.92,170.65 770.03,172.47 770.14,172.82 770.25,171.62 770.36,170.99 770.47,171.37 770.59,168.07 770.70,170.74 770.81,172.07 770.92,171.85 771.03,171.60 771.15,173.97 771.26,169.48 771.37,172.55 771.48,174.19 771.59,174.95 771.70,174.92 771.82,167.33 771.93,171.52 772.04,175.26 772.15,170.20 772.26,171.95 772.38,168.10 772.49,169.98 772.60,169.71 772.71,175.19 772.82,173.08 772.93,174.53 773.05,170.47 773.16,175.08 773.27,170.66 773.38,168.99 773.49,174.24 773.61,175.89 773.72,173.44 773.83,174.73 773.94,169.07 774.05,172.10 774.16,172.49 774.28,170.70 774.39,172.88 774.50,166.47" fill="none" stroke="#2457cc" stroke-width="0.6" stroke-opacity="0.9" stroke-linejoin="round"/>
<polyline points="528.50,179.07 528.61,174.97 528.72,172.68 528.84,171.13 528.95,172.20 529.06,176.79 529.17,173.53 529.28,178.90 529.39,175.72 529.51,179.37 529.62,174.30 529.73,174.59 529.84,175.76 529.95,171.48 530.07,178.55 530.18,173.54 530.29,170.71 530.40,177.83 530.51,171.91 530.62,177.14 530.74,170.54 530.85,178.32 530.96,174.91 531.07,172.57 531.18,171.58 531.30,178.34 531.41,174.44 531.52,175.79 531.63,177.21 531.74,172.65 531.85,180.10 531.97,171.42 532.08,176.16 532.19,165.18 532.30,176.83 532.41,168.87 532.53,173.28 532.64,170.33 532.75,166.88 532.86,166.50 532.97,168.31 533.08,169.02 533.20,168.13 533.31,172.44 533.42,170.23 533.53,173.89 533.64,168.46 533.76,175.93 533.87,172.09 533.98,181.27 534.09,173.54 534.20,172.43 534.31,184.06 534.43,171.68 534.54,167.56 534.65,170.38 534.76,163.74 534.87,171.88 534.99,168.52 535.10,179.09 535.21,169.69 535.32,174.53 535.43,169.78 535.54,171.76 535.66,168.69 535.77,182.14 535.88,168.90 535.99,168.56 536.10,175.23 536.22,173.04 536.33,175.80 536.44,172.31 536.55,173.37 536.66,176.21 536.77,177.10 536.89,177.92 537.00,173.73 537.11,167.48 537.22,175.65 537.33,159.03 537.45,166.06 537.56,170.11 537.67,167.46 537.78,172.58 537.89,180.69 538.00,170.60 538.12,155.52 538.23,170.39 538.34,171.49 538.45,172.19 538.56,172.35 538.68,175.96 538.79,177.56 538.90,175.56 539.01,168.17 539.12,181.02 539.23,169.94 539.35,180.41 539.46,160.61 539.57,169.81 539.68,174.91 539.79,173.22 539.91,173.59 540.02,170.81 540.13,179.38 540.24,175.69 540.35,172.51 540.46,170.89 540.58,179.28 540.69,170.25 540.80,168.96 540.91,176.93 541.02,171.59 541.14,174.74 541.25,171.11 541.36,177.65 541.47,175.13 541.58,166.03 541.69,184.23 541.81,164.80 541.92,167.69 542.03,181.79 542.14,179.40 542.25,179.89 542.37,173.49 542.48,178.26 542.59,171.11 542.70,177.42 542.81,169.69 542.92,167.20 543.04,172.90 543.15,175.03 543.26,167.41 543.37,179.98 543.48,168.27 543.60,179.49 543.71,174.04 543.82,167.05 543.93,172.89 544.04,169.82 544.15,174.29 544.27,170.59 544.38,177.30 544.49,176.77 544.60,175.59 544.71,179.49 544.83,171.29 544.94,175.38 545.05,154.79 545.16,184.08 545.27,172.76 545.38,175.26 545.50,185.69 545.61,178.05 545.72,159.08 545.83,168.96 545.94,165.30 546.06,162.87 546.17,181.92 546.28,168.94 546.39,167.98 546.50,174.33 546.61,166.63 546.73,164.11 546.84,172.54 546.95,170.64 547.06,182.27 547.17,174.91 547.29,165.30 547.40,176.07 547.51,181.31 547.62,169.87 547.73,173.74 547.84,169.33 547.96,172.57 548.07,173.24 548.18,168.51 548.29,174.84 548.40,172.56 548.52,177.58 548.63,180.24 548.74,167.81 548.85,167.18 548.96,179.55 549.07,176.34 549.19,181.31 549.30,168.82 549.41,174.07 549.52,171.65 549.63,170.51 549.75,174.16 549.86,180.95 549.97,164.94 550.08,172.48 550.19,168.91 550.30,172.41 550.42,174.97 550.53,188.03 550.64,173.59 550.75,176.74 550.86,171.90 550.98,170.09 551.09,167.32 551.20,170.51 551.31,172.13 551.42,172.25 551.53,165.65 551.65,177.52 551.76,172.81 551.87,180.65 551.98,164.75 552.09,171.45 552.21,174.90 552.32,169.28 552.43,175.18 552.54,179.19 552.65,179.14 552.76,174.82 552.88,167.53 552.99,157.59 553.10,164.18 553.21,163.56 553.32,176.90 553.44,173.41 553.55,172.63 553.66,172.96 553.77,175.97 553.88,172.10 553.99,164.37 554.11,175.89 554.22,169.48 554.33,171.84 554.44,180.12 554.55,172.90 554.67,178.95 554.78,173.16 554.89,169.94 555.00,169.66 555.11,178.82 555.22,174.80 555.34,168.79 555.45,171.96 555.56,166.40 555.67,176.11 555.78,171.60 555.90,175.61 556.01,176.23 556.12,173.85 556.23,172.87 556.34,177.09 556.45,166.00 556.57,167.69 556.68,180.79 556.79,181.45 556.90,172.68 557.01,168.14 557.13,171.75 557.24,171.46 557.35,179.29 557.46,170.73 557.57,173.25 557.68,173.24 557.80,168.08 557.91,180.23 558.02,168.23 558.13,164.14 558.24,166.78 558.36,177.99 558.47,172.87 558.58,172.47 558.69,171.72 558.80,178.25 558.91,174.14 559.03,170.52 559.14,163.82 559.25,172.78 559.36,177.44 559.47,167.19 559.59,174.25 559.70,166.00 559.81,170.93 559.92,175.35 560.03,169.02 560.14,166.36 560.26,172.64 560.37,174.87 560.48,177.19 560.59,173.66 560.70,171.44 560.82,173.49 560.93,176.48 561.04,178.69 561.15,178.49 561.26,170.67 561.37,169.21 561.49,168.84 561.60,181.29 561.71,161.37 561.82,175.01 561.93,167.33 562.05,165.92 562.16,159.67 562.27,176.54 562.38,171.92 562.49,177.73 562.60,174.33 562.72,172.40 562.83,178.78 562.94,174.57 563.05,171.55 563.16,181.13 563.28,179.98 563.39,172.34 563.50,168.28 563.61,161.32 563.72,176.21 563.83,174.92 563.95,186.29 564.06,183.22 564.17,172.98 564.28,176.99 564.39,172.27 564.51,175.37 564.62,173.87 564.73,179.65 564.84,174.79 564.95,168.10 565.06,177.56 565.18,171.84 565.29,179.47 565.40,168.06 565.51,166.73 565.62,165.54 565.74,166.26 565.85,169.91 565.96,165.88 566.07,172.30 566.18,178.37 566.29,176.29 566.41,178.02 566.52,168.26 566.63,167.61 566.74,168.77 566.85,177.69 566.97,171.83 567.08,166.94 567.19,170.27 567.30,175.31 567.41,172.05 567.52,174.74 567.64,172.91 567.75,172.05 567.86,183.08 567.97,162.36 568.08,165.61 568.20,163.67 568.31,165.71 568.42,169.26 568.53,176.41 568.64,174.80 568.75,172.37 568.87,169.06 568.98,169.02 569.09,166.11 569.20,169.03 569.31,174.28 569.43,166.38 569.54,181.81 569.65,172.48 569.76,173.07 569.87,172.13 569.98,199.50 570.10,174.23 570.21,177.89 570.32,167.65 570.43,169.46 570.54,176.88 570.66,177.89 570.77,170.65 570.88,163.31 570.99,172.04 571.10,179.64 571.21,169.14 571.33,167.28 571.44,175.75 571.55,174.67 571.66,167.93 571.77,170.04 571.89,178.10 572.00,175.59 572.11,171.30 572.22,173.62 572.33,172.59 572.44,172.94 572.56,171.26 572.67,165.90 572.78,176.44 572.89,167.26 573.00,172.60 573.12,166.34 573.23,174.97 573.34,174.76 573.45,173.97 573.56,174.90 573.67,174.36 573.79,170.57 573.90,177.78 574.01,174.16 574.12,173.23 574.23,171.62 574.35,169.22 574.46,176.72 574.57,179.12 574.68,168.14 574.79,178.84 574.90,172.61 575.02,173.16 575.13,168.86 575.24,168.05 575.35,167.99 575.46,175.99 575.58,167.28 575.69,169.21 575.80,177.96 575.91,175.44 576.02,168.90 576.13,180.98 576.25,180.84 576.36,166.08 576.47,172.32 576.58,178.72 576.69,160.13 576.81,182.07 576.92,175.26 577.03,164.58 577.14,170.96 577.25,171.58 577.36,170.94 577.48,168.69 577.59,173.19 577.70,166.05 577.81,177.54 577.92,171.85 578.04,176.58 578.15,168.86 578.26,181.53 578.37,172.79 578.48,175.42 578.59,176.07 578.71,177.26 578.82,177.55 578.93,180.03 579.04,177.09 579.15,169.80 579.27,178.92 579.38,172.01 579.49,176.06 579.60,181.78 579.71,173.04 579.82,174.82 579.94,180.59 580.05,162.54 580.16,169.51 580.27,165.41 580.38,167.71 580.50,171.83 580.61,183.64 580.72,172.11 580.83,172.76 580.94,171.81 581.05,171.21 581.17,165.35 581.28,173.19 581.39,170.22 581.50,178.14 581.61,169.57 581.73,183.81 581.84,171.16 581.95,188.03 582.06,169.04 582.17,164.02 582.28,170.63 582.40,175.19 582.51,168.79 582.62,168.67 582.73,176.26 582.84,177.52 582.96,174.35 583.07,167.88 583.18,162.56 583.29,169.86 583.40,169.83 583.51,172.15 583.63,178.41 583.74,169.15 583.85,170.05 583.96,166.98 584.07,171.30 584.19,180.43 584.30,174.66 584.41,163.39 584.52,175.18 584.63,170.07 584.74,174.94 584.86,169.97 584.97,168.31 585.08,173.44 585.19,169.91 585.30,169.37 585.42,172.31 585.53,168.06 585.64,168.26 585.75,174.96 585.86,172.63 585.97,166.46 586.09,176.69 586.20,168.13 586.31,178.12 586.42,176.67 586.53,174.77 586.65,168.20 586.76,179.10 586.87,167.32 586.98,176.23 587.09,165.00 587.20,174.95 587.32,172.90 587.43,169.47 587.54,173.71 587.65,178.46 587.76,176.26 587.88,167.16 587.99,173.29 588.10,180.71 588.21,168.99 588.32,170.61 588.43,168.89 588.55,170.59 588.66,169.13 588.77,169.92 588.88,171.08 588.99,170.70 589.11,167.14 589.22,178.67 589.33,175.82 589.44,163.59 589.55,174.79 589.66,167.56 589.78,174.76 589.89,170.68 590.00,172.60 590.11,172.72 590.22,169.46 590.34,180.11 590.45,178.26 590.56,168.46 590.67,178.26 590.78,165.85 590.89,173.30 591.01,175.33 591.12,174.36 591.23,163.39 591.34,170.56 591.45,165.75 591.57,165.29 591.68,167.70 591.79,167.26 591.90,171.81 592.01,165.55 592.12,170.64 592.24,176.41 592.35,165.93 592.46,172.14 592.57,182.38 592.68,168.99 592.80,175.49 592.91,170.09 593.02,175.08 593.13,173.09 593.24,172.79 593.35,172.81 593.47,175.72 593.58,173.85 593.69,167.49 593.80,170.22 593.91,172.15 594.03,165.97 594.14,175.56 594.25,173.87 594.36,171.11 594.47,178.18 594.58,169.81 594.70,180.50 594.81,172.72 594.92,178.24 595.03,164.11 595.14,168.01 595.26,175.73 595.37,171.09 595.48,181.65 595.59,167.84 595.70,170.39 595.81,167.13 595.93,183.86 596.04,168.71 596.15,153.28 596.26,171.38 596.37,175.37 596.49,179.31 596.60,161.52 596.71,172.45 596.82,160.83 596.93,175.04 597.04,177.24 597.16,180.21 597.27,169.06 597.38,167.31 597.49,169.37 597.60,168.88 597.72,180.32 597.83,175.20 597.94,169.54 598.05,175.43 598.16,173.30 598.27,167.55 598.39,173.14 598.50,168.68 598.61,170.84 598.72,169.18 598.83,169.04 598.95,180.66 599.06,170.25 599.17,166.52 599.28,173.10 599.39,168.52 599.50,165.53 599.62,164.83 599.73,169.31 599.84,167.30 599.95,173.18 600.06,168.76 600.18,169.24 600.29,176.03 600.40,173.53 600.51,168.06 600.62,172.89 600.73,161.37 600.85,171.96 600.96,170.74 601.07,175.89 601.18,169.84 601.29,168.91 601.41,172.98 601.52,160.99 601.63,164.44 601.74,171.71 601.85,165.36 601.96,166.77 602.08,171.36 602.19,169.45 602.30,178.42 602.41,169.54 602.52,173.77 602.64,172.39 602.75,179.74 602.86,171.55 602.97,170.58 603.08,183.11 603.19,180.42 603.31,169.97 603.42,168.59 603.53,163.22 603.64,167.46 603.75,171.97 603.87,175.55 603.98,172.92 604.09,166.57 604.20,172.46 604.31,171.18 604.42,167.58 604.54,167.89 604.65,174.54 604.76,168.69 604.87,170.92 604.98,161.15 605.10,175.11 605.21,165.68 605.32,174.70 605.43,175.25 605.54,175.00 605.65,173.54 605.77,171.83 605.88,169.85 605.99,171.08 606.10,178.85 606.21,176.60 606.33,167.73 606.44,170.75 606.55,167.38 606.66,166.22 606.77,178.18 606.88,175.53 607.00,170.78 607.11,172.33 607.22,175.90 607.33,171.25 607.44,170.96 607.56,168.29 607.67,177.92 607.78,173.15 607.89,172.82 608.00,156.76 608.11,170.78 608.23,170.95 608.34,171.17 608.45,163.78 608.56,173.78 608.67,173.89 608.79,174.85 608.90,167.12 609.01,170.31 609.12,179.40 609.23,175.03 609.34,181.20 609.46,170.54 609.57,172.22 609.68,166.81 609.79,168.22 609.90,169.74 610.02,167.64 610.13,170.32 610.24,176.27 610.35,173.75 610.46,169.50 610.57,171.18 610.69,164.30 610.80,170.80 610.91,173.51 611.02,164.52 611.13,167.90 611.25,164.02 611.36,174.26 611.47,181.39 611.58,169.16 611.69,170.45 611.80,171.02 611.92,173.53 612.03,172.01 612.14,170.76 612.25,174.39 612.36,169.73 612.48,167.78 612.59,172.85 612.70,173.73 612.81,175.67 612.92,171.08 613.03,166.19 613.15,180.64 613.26,176.01 613.37,174.58 613.48,167.66 613.59,167.55 613.71,176.35 613.82,171.22 613.93,174.57 614.04,165.22 614.15,169.15 614.26,176.10 614.38,180.25 614.49,177.72 614.60,173.75 614.71,167.52 614.82,171.58 614.94,174.20 615.05,179.12 615.16,175.27 615.27,169.01 615.38,174.23 615.49,171.68 615.61,170.06 615.72,187.01 615.83,173.15 615.94,174.95 616.05,171.10 616.17,173.16 616.28,178.69 616.39,168.40 616.50,175.33 616.61,171.01 616.72,168.69 616.84,166.47 616.95,169.60 617.06,172.54 617.17,171.26 617.28,162.39 617.40,174.35 617.51,173.75 617.62,171.60 617.73,170.15 617.84,176.92 617.95,168.84 618.07,167.32 618.18,176.62 618.29,175.91 618.40,180.35 618.51,181.49 618.63,187.50 618.74,188.19 618.85,167.98 618.96,173.41 619.07,177.13 619.18,167.78 619.30,167.48 619.41,166.28 619.52,177.11 619.63,171.45 619.74,170.24 619.86,168.30 619.97,170.83 620.08,175.02 620.19,179.45 620.30,175.94 620.41,171.70 620.53,180.21 620.64,172.93 620.75,168.16 620.86,173.33 620.97,169.54 621.09,172.58 621.20,172.89 621.31,167.07 621.42,164.47 621.53,178.06 621.64,168.43 621.76,174.81 621.87,178.01 621.98,170.71 622.09,176.82 622.20,184.07 622.32,176.29 622.43,167.12 622.54,169.76 622.65,177.87 622.76,174.69 622.87,167.08 622.99,180.04 623.10,168.00 623.21,178.58 623.32,182.93 623.43,174.52 623.55,167.62 623.66,172.37 623.77,162.61 623.88,175.91 623.99,173.95 624.10,168.14 624.22,177.00 624.33,172.01 624.44,171.93 624.55,175.85 624.66,170.06 624.78,172.58 624.89,175.33 625.00,174.50 625.11,175.33 625.22,173.76 625.33,169.56 625.45,169.91 625.56,172.55 625.67,170.75 625.78,176.89 625.89,179.88 626.01,167.40 626.12,166.10 626.23,174.16 626.34,176.71 626.45,171.05 626.56,163.60 626.68,174.37 626.79,171.03 626.90,175.26 627.01,170.35 627.12,170.70 627.24,166.42 627.35,169.34 627.46,176.71 627.57,175.62 627.68,164.74 627.79,175.87 627.91,174.24 628.02,173.31 628.13,171.86 628.24,166.49 628.35,177.03 628.47,172.65 628.58,172.44 628.69,180.42 628.80,172.74 628.91,173.92 629.02,176.64 629.14,175.55 629.25,165.50 629.36,176.79 629.47,179.52 629.58,169.89 629.70,174.48 629.81,176.38 629.92,174.00 630.03,175.71 630.14,172.20 630.25,175.55 630.37,175.07 630.48,171.87 630.59,170.99 630.70,176.03 630.81,156.56 630.93,169.12 631.04,171.35 631.15,164.99 631.26,176.29 631.37,175.43 631.48,171.06 631.60,171.36 631.71,172.37 631.82,166.74 631.93,175.66 632.04,173.58 632.16,174.31 632.27,167.22 632.38,174.98 632.49,179.75 632.60,180.85 632.71,169.20 632.83,170.10 632.94,174.09 633.05,180.91 633.16,174.47 633.27,167.12 633.39,172.85 633.50,169.01 633.61,172.92 633.72,175.24 633.83,168.68 633.94,176.03 634.06,175.14 634.17,167.02 634.28,173.99 634.39,172.17 634.50,178.23 634.62,177.83 634.73,171.93 634.84,173.80 634.95,172.15 635.06,171.36 635.17,177.37 635.29,171.04 635.40,165.99 635.51,172.59 635.62,167.77 635.73,169.48 635.85,175.87 635.96,193.76 636.07,171.66 636.18,162.79 636.29,169.28 636.40,175.63 636.52,163.14 636.63,180.63 636.74,182.56 636.85,160.03 636.96,167.72 637.08,162.20 637.19,178.93 637.30,172.56 637.41,178.12 637.52,168.43 637.63,170.92 637.75,163.25 637.86,176.92 637.97,171.81 638.08,172.69 638.19,174.48 638.31,175.90 638.42,173.76 638.53,172.12 638.64,170.18 638.75,168.38 638.86,182.62 638.98,172.07 639.09,172.86 639.20,167.87 639.31,178.26 639.42,175.79 639.54,175.57 639.65,198.39 639.76,177.47 639.87,168.97 639.98,181.24 640.09,166.66 640.21,167.97 640.32,174.37 640.43,172.25 640.54,185.96 640.65,183.91 640.77,175.14 640.88,179.50 640.99,169.43 641.10,178.90 641.21,176.57 641.32,173.77 641.44,174.51 641.55,174.91 641.66,173.20 641.77,176.65 641.88,172.36 642.00,170.30 642.11,171.35 642.22,180.69 642.33,173.42 642.44,170.98 642.55,171.50 642.67,175.57 642.78,172.60 642.89,171.79 643.00,181.70 643.11,175.37 643.23,184.09 643.34,183.11 643.45,173.99 643.56,171.87 643.67,187.54 643.78,168.80 643.90,179.10 644.01,161.30 644.12,168.98 644.23,172.45 644.34,166.25 644.46,178.66 644.57,165.57 644.68,165.52 644.79,173.40 644.90,169.08 645.01,170.64 645.13,172.54 645.24,179.07 645.35,172.03 645.46,175.58 645.57,171.34 645.69,179.41 645.80,167.80 645.91,172.82 646.02,175.79 646.13,175.98 646.24,181.62 646.36,167.54 646.47,179.74 646.58,174.11 646.69,170.55 646.80,173.61 646.92,169.55 647.03,180.02 647.14,168.98 647.25,172.17 647.36,178.27 647.47,169.46 647.59,169.35 647.70,191.92 647.81,179.01 647.92,165.39 648.03,175.36 648.15,169.01 648.26,170.45 648.37,172.69 648.48,178.18 648.59,173.15 648.70,167.26 648.82,172.39 648.93,176.59 649.04,172.18 649.15,171.97 649.26,170.99 649.38,173.67 649.49,174.35 649.60,179.56 649.71,179.48 649.82,167.12 649.93,178.22 650.05,169.39 650.16,169.76 650.27,172.88 650.38,172.35 650.49,177.72 650.61,174.72 650.72,166.91 650.83,175.66 650.94,179.19 651.05,175.34 651.16,172.16 651.28,173.93 651.39,178.23 651.50,57.14 651.61,171.87 651.72,174.71 651.84,176.50 651.95,168.68 652.06,181.92 652.17,168.59 652.28,172.40 652.39,198.28 652.51,172.75 652.62,166.89 652.73,170.20 652.84,174.76 652.95,168.54 653.07,167.30 653.18,177.58 653.29,175.26 653.40,169.95 653.51,176.43 653.62,160.04 653.74,178.33 653.85,167.58 653.96,168.30 654.07,180.66 654.18,174.17 654.30,168.52 654.41,167.15 654.52,161.73 654.63,167.60 654.74,173.15 654.85,172.07 654.97,168.06 655.08,171.80 655.19,166.55 655.30,177.55 655.41,175.85 655.53,177.68 655.64,170.68 655.75,167.45 655.86,175.85 655.97,171.33 656.08,171.17 656.20,169.65 656.31,178.34 656.42,170.07 656.53,173.04 656.64,171.03 656.76,180.10 656.87,166.56 656.98,177.74 657.09,179.50 657.20,175.43 657.31,164.35 657.43,178.75 657.54,184.64 657.65,165.16 657.76,175.53 657.87,174.65 657.99,176.94 658.10,176.52 658.21,177.42 658.32,163.71 658.43,171.03 658.54,169.81 658.66,175.72 658.77,177.77 658.88,165.34 658.99,167.49 659.10,179.67 659.22,178.07 659.33,174.73 659.44,169.33 659.55,180.88 659.66,183.56 659.77,167.19 659.89,169.97 660.00,176.25 660.11,176.37 660.22,173.17 660.33,175.11 660.45,166.30 660.56,169.31 660.67,169.17 660.78,176.72 660.89,179.80 661.00,176.46 661.12,174.18 661.23,173.07 661.34,180.96 661.45,176.22 661.56,168.73 661.68,188.51 661.79,170.66 661.90,181.97 662.01,183.72 662.12,192.44 662.23,174.95 662.35,169.56 662.46,171.10 662.57,171.79 662.68,164.62 662.79,165.77 662.91,179.02 663.02,180.01 663.13,177.46 663.24,170.76 663.35,178.31 663.46,168.08 663.58,176.81 663.69,171.79 663.80,169.40 663.91,177.81 664.02,169.65 664.14,178.07 664.25,177.66 664.36,170.42 664.47,173.01 664.58,174.17 664.69,168.44 664.81,172.37 664.92,186.58 665.03,172.71 665.14,176.92 665.25,177.43 665.37,167.56 665.48,175.49 665.59,168.76 665.70,179.81 665.81,167.83 665.92,164.83 666.04,173.63 666.15,170.00 666.26,166.78 666.37,177.33 666.48,168.39 666.60,174.88 666.71,171.10 666.82,164.92 666.93,168.49 667.04,175.47 667.15,174.88 667.27,188.54 667.38,168.72 667.49,170.42 667.60,169.76 667.71,181.65 667.83,166.61 667.94,177.54 668.05,161.56 668.16,175.33 668.27,180.65 668.38,178.89 668.50,170.45 668.61,175.88 668.72,176.06 668.83,171.57 668.94,169.41 669.06,177.14 669.17,186.65 669.28,176.18 669.39,177.84 669.50,174.73 669.61,171.70 669.73,175.80 669.84,174.80 669.95,178.23 670.06,168.37 670.17,170.27 670.29,168.40 670.40,178.71 670.51,177.92 670.62,170.28 670.73,171.85 670.84,169.92 670.96,168.11 671.07,175.31 671.18,173.54 671.29,166.00 671.40,173.95 671.52,169.78 671.63,171.27 671.74,174.79 671.85,181.96 671.96,176.07 672.07,171.76 672.19,171.77 672.30,164.96 672.41,166.21 672.52,168.44 672.63,184.28 672.75,174.53 672.86,171.11 672.97,167.11 673.08,177.39 673.19,175.96 673.30,171.41 673.42,166.05 673.53,173.27 673.64,171.95 673.75,176.50 673.86,171.01 673.98,179.26 674.09,167.33 674.20,176.20 674.31,175.99 674.42,167.61 674.53,185.19 674.65,174.27 674.76,164.20 674.87,173.64 674.98,173.81 675.09,168.72 675.21,181.04 675.32,171.72 675.43,172.11 675.54,174.29 675.65,176.42 675.76,171.24 675.88,179.12 675.99,170.74 676.10,170.11 676.21,171.15 676.32,168.58 676.44,176.95 676.55,168.92 676.66,173.65 676.77,169.07 676.88,162.13 676.99,155.57 677.11,169.61 677.22,174.40 677.33,166.81 677.44,169.22 677.55,160.02 677.67,170.28 677.78,170.29 677.89,165.38 678.00,177.56 678.11,166.94 678.22,168.37 678.34,168.47 678.45,170.64 678.56,172.74 678.67,163.38 678.78,179.35 678.90,172.08 679.01,169.18 679.12,175.16 679.23,170.57 679.34,174.58 679.45,181.38 679.57,175.34 679.68,171.43 679.79,167.58 679.90,175.10 680.01,164.68 680.13,173.30 680.24,166.04 680.35,172.56 680.46,169.14 680.57,170.71 680.68,167.15 680.80,172.84 680.91,177.36 681.02,172.85 681.13,169.30 681.24,179.14 681.36,167.31 681.47,170.65 681.58,164.71 681.69,173.61 681.80,171.43 681.91,178.08 682.03,173.05 682.14,166.12 682.25,175.10 682.36,166.02 682.47,177.79 682.59,170.84 682.70,153.26 682.81,167.78 682.92,168.32 683.03,172.95 683.14,156.27 683.26,168.83 683.37,171.99 683.48,174.84 683.59,180.21 683.70,151.56 683.82,182.81 683.93,169.89 684.04,163.88 684.15,173.69 684.26,167.37 684.37,168.98 684.49,165.55 684.60,173.53 684.71,172.66 684.82,183.14 684.93,167.55 685.05,177.13 685.16,177.01 685.27,160.98 685.38,162.94 685.49,168.46 685.60,176.92 685.72,174.48 685.83,165.58 685.94,171.11 686.05,173.29 686.16,170.42 686.28,174.48 686.39,174.94 686.50,168.10 686.61,165.08 686.72,172.00 686.83,164.55 686.95,176.22 687.06,185.21 687.17,154.78 687.28,174.28 687.39,169.18 687.51,170.06 687.62,174.09 687.73,176.33 687.84,181.67 687.95,172.44 688.06,157.79 688.18,178.23 688.29,174.87 688.40,171.90 688.51,170.11 688.62,169.28 688.74,172.94 688.85,174.59 688.96,167.94 689.07,178.74 689.18,178.52 689.29,173.39 689.41,169.69 689.52,174.15 689.63,171.68 689.74,166.27 689.85,172.52 689.97,172.72 690.08,170.01 690.19,173.46 690.30,173.25 690.41,171.40 690.52,171.16 690.64,171.34 690.75,174.40 690.86,170.49 690.97,174.69 691.08,167.84 691.20,166.74 691.31,174.76 691.42,181.34 691.53,167.82 691.64,169.21 691.75,174.62 691.87,172.73 691.98,173.88 692.09,172.39 692.20,174.59 692.31,165.62 692.43,166.33 692.54,169.89 692.65,169.62 692.76,176.05 692.87,182.26 692.98,168.92 693.10,174.14 693.21,168.62 693.32,174.81 693.43,172.99 693.54,177.64 693.66,172.05 693.77,171.92 693.88,176.71 693.99,175.83 694.10,174.85 694.21,170.22 694.33,167.40 694.44,172.67 694.55,172.64 694.66,169.60 694.77,166.14 694.89,174.54 695.00,162.02 695.11,173.43 695.22,172.75 695.33,168.19 695.44,169.83 695.56,179.51 695.67,167.34 695.78,172.30 695.89,171.20 696.00,168.44 696.12,173.48 696.23,169.90 696.34,171.10 696.45,171.92 696.56,169.18 696.67,167.45 696.79,179.61 696.90,169.15 697.01,177.81 697.12,172.58 697.23,161.91 697.35,171.20 697.46,169.41 697.57,169.40 697.68,172.57 697.79,169.96 697.90,175.74 698.02,175.53 698.13,171.46 698.24,173.12 698.35,164.94 698.46,173.73 698.58,169.21 698.69,180.57 698.80,168.37 698.91,162.11 699.02,175.88 699.13,161.98 699.25,190.29 699.36,176.23 699.47,175.40 699.58,170.85 699.69,174.31 699.81,168.95 699.92,177.69 700.03,171.49 700.14,173.65 700.25,167.42 700.36,170.79 700.48,177.18 700.59,168.35 700.70,170.75 700.81,181.70 700.92,168.90 701.04,165.77 701.15,165.68 701.26,170.94 701.37,180.04 701.48,165.85 701.59,164.04 701.71,168.57 701.82,170.05 701.93,166.79 702.04,174.98 702.15,161.07 702.27,170.84 702.38,169.90 702.49,169.10 702.60,165.99 702.71,170.18 702.82,170.46 702.94,177.86 703.05,164.97 703.16,175.66 703.27,164.56 703.38,169.50 703.50,179.11 703.61,169.74 703.72,167.80 703.83,175.16 703.94,170.60 704.05,173.30 704.17,169.62 704.28,170.00 704.39,172.17 704.50,170.23 704.61,170.93 704.73,169.49 704.84,169.34 704.95,166.88 705.06,174.27 705.17,177.92 705.28,167.07 705.40,176.51 705.51,168.53 705.62,171.16 705.73,177.54 705.84,171.24 705.96,174.97 706.07,176.04 706.18,166.66 706.29,166.47 706.40,171.09 706.51,172.56 706.63,168.38 706.74,168.56 706.85,173.88 706.96,181.49 707.07,175.52 707.19,164.18 707.30,168.11 707.41,168.51 707.52,174.59 707.63,168.27 707.74,168.50 707.86,169.16 707.97,173.59 708.08,176.93 708.19,178.17 708.30,177.10 708.42,168.88 708.53,172.31 708.64,171.83 708.75,168.28 708.86,179.28 708.97,170.35 709.09,178.82 709.20,167.17 709.31,179.48 709.42,171.27 709.53,163.10 709.65,170.67 709.76,175.57 709.87,173.82 709.98,178.94 710.09,169.01 710.20,172.63 710.32,171.08 710.43,180.68 710.54,174.49 710.65,172.97 710.76,162.41 710.88,170.45 710.99,168.63 711.10,165.46 711.21,168.99 711.32,167.88 711.43,173.68 711.55,169.38 711.66,176.78 711.77,171.12 711.88,170.42 711.99,167.19 712.11,173.88 712.22,170.34 712.33,173.14 712.44,175.25 712.55,174.58 712.66,177.84 712.78,177.72 712.89,176.89 713.00,184.35 713.11,172.62 713.22,172.00 713.34,168.16 713.45,171.48 713.56,186.62 713.67,170.99 713.78,168.02 713.89,179.08 714.01,170.32 714.12,173.92 714.23,181.04 714.34,168.71 714.45,172.36 714.57,174.84 714.68,190.29 714.79,174.04 714.90,177.70 715.01,173.05 715.12,173.33 715.24,163.84 715.35,172.26 715.46,173.29 715.57,183.58 715.68,174.25 715.80,174.30 715.91,167.14 716.02,169.85 716.13,179.20 716.24,180.89 716.35,166.32 716.47,173.58 716.58,168.72 716.69,171.68 716.80,170.07 716.91,173.35 717.03,171.06 717.14,173.68 717.25,175.43 717.36,185.96 717.47,179.89 717.58,162.40 717.70,167.59 717.81,176.50 717.92,179.82 718.03,176.04 718.14,170.50 718.26,183.69 718.37,177.96 718.48,145.78 718.59,180.94 718.70,176.82 718.81,170.96 718.93,164.27 719.04,173.49 719.15,162.49 719.26,166.68 719.37,168.92 719.49,175.74 719.60,173.23 719.71,175.30 719.82,172.64 719.93,168.76 720.04,178.55 720.16,168.44 720.27,175.27 720.38,171.99 720.49,168.41 720.60,170.59 720.72,172.19 720.83,167.40 720.94,189.14 721.05,174.86 721.16,170.96 721.27,172.39 721.39,189.62 721.50,178.93 721.61,166.36 721.72,167.91 721.83,176.52 721.95,168.10 722.06,178.78 722.17,174.84 722.28,175.35 722.39,171.44 722.50,193.00 722.62,168.41 722.73,172.73 722.84,174.80 722.95,173.38 723.06,168.06 723.18,172.73 723.29,168.86 723.40,171.11 723.51,163.14 723.62,171.38 723.73,175.33 723.85,180.68 723.96,193.15 724.07,169.42 724.18,169.80 724.29,175.30 724.41,169.74 724.52,167.06 724.63,169.81 724.74,178.53 724.85,165.42 724.96,173.41 725.08,172.38 725.19,179.84 725.30,186.78 725.41,177.87 725.52,171.76 725.64,170.84 725.75,165.11 725.86,172.74 725.97,170.76 726.08,173.55 726.19,165.30 726.31,172.69 726.42,173.40 726.53,175.84 726.64,167.36 726.75,170.41 726.87,170.13 726.98,175.33 727.09,172.12 727.20,189.84 727.31,183.41 727.42,177.52 727.54,176.73 727.65,166.03 727.76,175.23 727.87,171.83 727.98,169.53 728.10,185.24 728.21,162.59 728.32,175.96 728.43,170.65 728.54,169.08 728.65,170.95 728.77,184.82 728.88,175.84 728.99,171.41 729.10,174.14 729.21,172.43 729.33,175.20 729.44,172.66 729.55,183.80 729.66,173.10 729.77,172.69 729.88,172.37 730.00,172.41 730.11,177.72 730.22,176.89 730.33,177.54 730.44,173.08 730.56,167.59 730.67,169.49 730.78,174.36 730.89,174.53 731.00,171.02 731.11,158.75 731.23,170.41 731.34,177.68 731.45,168.35 731.56,168.88 731.67,171.68 731.79,175.70 731.90,169.72 732.01,172.58 732.12,173.86 732.23,182.90 732.34,171.85 732.46,174.68 732.57,171.35 732.68,168.49 732.79,178.78 732.90,181.68 733.02,172.34 733.13,172.18 733.24,180.70 733.35,182.83 733.46,173.15 733.57,177.76 733.69,175.91 733.80,175.47 733.91,170.30 734.02,170.59 734.13,178.60 734.25,168.86 734.36,175.95 734.47,173.34 734.58,176.66 734.69,168.51 734.80,176.77 734.92,177.43 735.03,173.08 735.14,178.12 735.25,167.71 735.36,178.79 735.48,170.89 735.59,177.38 735.70,177.01 735.81,170.98 735.92,177.12 736.03,165.69 736.15,173.76 736.26,171.34 736.37,176.29 736.48,170.84 736.59,167.21 736.71,173.13 736.82,171.47 736.93,170.05 737.04,167.42 737.15,168.53 737.26,175.78 737.38,172.86 737.49,176.82 737.60,172.50 737.71,171.45 737.82,176.00 737.94,173.60 738.05,169.39 738.16,176.44 738.27,161.64 738.38,173.14 738.49,172.21 738.61,175.04 738.72,177.29 738.83,177.09 738.94,178.19 739.05,168.00 739.17,176.55 739.28,168.99 739.39,172.96 739.50,169.83 739.61,174.31 739.72,173.15 739.84,171.94 739.95,173.59 740.06,178.52 740.17,180.26 740.28,167.51 740.40,176.35 740.51,173.70 740.62,181.47 740.73,174.45 740.84,173.79 740.95,157.17 741.07,178.29 741.18,195.77 741.29,172.75 741.40,164.00 741.51,175.08 741.63,177.32 741.74,180.84 741.85,169.88 741.96,166.79 742.07,172.89 742.18,170.96 742.30,171.43 742.41,175.92 742.52,167.88 742.63,173.18 742.74,176.18 742.86,176.43 742.97,178.31 743.08,170.17 743.19,171.59 743.30,178.09 743.41,171.81 743.53,195.66 743.64,173.16 743.75,174.94 743.86,177.03 743.97,175.48 744.09,180.57 744.20,168.18 744.31,168.42 744.42,172.01 744.53,173.52 744.64,181.89 744.76,170.45 744.87,163.63 744.98,176.81 745.09,172.33 745.20,166.61 745.32,171.53 745.43,178.94 745.54,172.12 745.65,174.15 745.76,170.69 745.87,170.59 745.99,171.35 746.10,169.93 746.21,173.05 746.32,160.66 746.43,177.05 746.55,175.61 746.66,168.52 746.77,169.21 746.88,167.00 746.99,172.65 747.10,173.36 747.22,178.29 747.33,173.25 747.44,162.80 747.55,171.20 747.66,179.67 747.78,178.62 747.89,169.12 748.00,175.51 748.11,176.25 748.22,176.17 748.33,177.05 748.45,170.33 748.56,170.29 748.67,173.46 748.78,164.67 748.89,173.79 749.01,168.12 749.12,178.01 749.23,170.82 749.34,161.29 749.45,166.16 749.56,167.24 749.68,166.09 749.79,161.89 749.90,172.77 750.01,171.44 750.12,175.47 750.24,173.89 750.35,172.41 750.46,166.92 750.57,176.75 750.68,168.37 750.79,171.57 750.91,176.67 751.02,167.93 751.13,171.55 751.24,157.96 751.35,164.64 751.47,175.38 751.58,172.51 751.69,173.60 751.80,173.59 751.91,172.04 752.02,168.75 752.14,170.58 752.25,173.88 752.36,168.21 752.47,167.67 752.58,170.55 752.70,161.56 752.81,182.28 752.92,165.02 753.03,170.40 753.14,173.30 753.25,169.41 753.37,173.13 753.48,177.58 753.59,178.61 753.70,183.22 753.81,177.37 753.93,175.56 754.04,170.06 754.15,170.22 754.26,171.00 754.37,167.76 754.48,166.36 754.60,171.71 754.71,176.16 754.82,170.17 754.93,185.19 755.04,167.58 755.16,174.67 755.27,170.57 755.38,169.21 755.49,174.52 755.60,170.19 755.71,173.47 755.83,172.08 755.94,171.15 756.05,171.26 756.16,167.74 756.27,174.46 756.39,177.67 756.50,161.05 756.61,173.20 756.72,169.83 756.83,171.61 756.94,160.16 757.06,177.27 757.17,169.28 757.28,171.31 757.39,165.80 757.50,180.17 757.62,168.42 757.73,174.79 757.84,173.52 757.95,158.80 758.06,173.24 758.17,166.75 758.29,178.56 758.40,170.51 758.51,167.94 758.62,169.94 758.73,171.35 758.85,179.61 758.96,173.60 759.07,168.25 759.18,171.59 759.29,177.49 759.40,168.93 759.52,176.49 759.63,167.29 759.74,174.60 759.85,177.82 759.96,162.65 760.08,175.89 760.19,173.28 760.30,181.67 760.41,177.37 760.52,177.19 760.63,176.74 760.75,169.19 760.86,169.43 760.97,171.35 761.08,177.44 761.19,172.45 761.31,183.03 761.42,173.80 761.53,170.89 761.64,172.10 761.75,178.79 761.86,173.14 761.98,171.41 762.09,167.84 762.20,169.21 762.31,178.14 762.42,174.37 762.54,164.92 762.65,177.61 762.76,172.99 762.87,170.05 762.98,175.26 763.09,173.57 763.21,169.70 763.32,172.31 763.43,164.61 763.54,175.63 763.65,171.83 763.77,171.56 763.88,167.34 763.99,172.67 764.10,177.45 764.21,165.66 764.32,179.65 764.44,182.72 764.55,172.37 764.66,172.06 764.77,168.13 764.88,166.86 765.00,171.41 765.11,170.03 765.22,164.14 765.33,176.58 765.44,174.78 765.55,166.64 765.67,169.06 765.78,167.66 765.89,167.86 766.00,163.93 766.11,174.26 766.23,175.78 766.34,175.17 766.45,173.04 766.56,174.35 766.67,166.10 766.78,169.65 766.90,169.73 767.01,167.00 767.12,167.70 767.23,173.03 767.34,175.21 767.46,171.77 767.57,178.31 767.68,168.93 767.79,165.35 767.90,170.52 768.01,183.70 768.13,171.76 768.24,172.32 768.35,176.59 768.46,171.97 768.57,170.91 768.69,166.51 768.80,171.50 768.91,169.83 769.02,186.43 769.13,174.46 769.24,166.88 769.36,171.27 769.47,169.71 769.58,177.14 769.69,168.99 769.80,167.71 769.92,160.73 770.03,181.72 770.14,167.49 770.25,183.46 770.36,173.60 770.47,180.07 770.59,182.81 770.70,178.62 770.81,175.59 770.92,170.26 771.03,175.61 771.15,170.69 771.26,151.03 771.37,167.90 771.48,168.85 771.59,166.49 771.70,175.37 771.82,178.91 771.93,175.70 772.04,179.14 772.15,164.51 772.26,171.92 772.38,177.19 772.49,178.08 772.60,174.58 772.71,173.63 772.82,182.56 772.93,179.89 773.05,171.63 773.16,186.29 773.27,171.22 773.38,175.44 773.49,179.75 773.61,174.46 773.72,174.33 773.83,172.09 773.94,162.43 774.05,169.82 774.16,173.35 774.28,173.02 774.39,170.44 774.50,176.00" fill="none" stroke="#bf3306" stroke-width="0.5" stroke-opacity="0.95" stroke-dasharray="2.8 1.8" stroke-linejoin="round"/>
<line x1="651.50" y1="82.54" x2="651.50" y2="172" stroke="#2457cc" stroke-width="0.7"/>
<line x1="651.50" y1="57.14" x2="651.50" y2="172" stroke="#cc3f0c" stroke-width="0.45" stroke-opacity="0.85" stroke-dasharray="5.6 2.3"/>
<rect x="528.5" y="48.5" width="246.00" height="152.00" fill="none" stroke="#6e6e6e" stroke-width="0.7"/>
<path d="M528.50,200.5v-3.4M528.50,48.5v3.4M540.80,200.5v-1.9M540.80,48.5v1.9M553.10,200.5v-1.9M553.10,48.5v1.9M565.40,200.5v-1.9M565.40,48.5v1.9M577.70,200.5v-1.9M577.70,48.5v1.9M590.00,200.5v-3.4M590.00,48.5v3.4M602.30,200.5v-1.9M602.30,48.5v1.9M614.60,200.5v-1.9M614.60,48.5v1.9M626.90,200.5v-1.9M626.90,48.5v1.9M639.20,200.5v-1.9M639.20,48.5v1.9M651.50,200.5v-3.4M651.50,48.5v3.4M663.80,200.5v-1.9M663.80,48.5v1.9M676.10,200.5v-1.9M676.10,48.5v1.9M688.40,200.5v-1.9M688.40,48.5v1.9M700.70,200.5v-1.9M700.70,48.5v1.9M713.00,200.5v-3.4M713.00,48.5v3.4M725.30,200.5v-1.9M725.30,48.5v1.9M737.60,200.5v-1.9M737.60,48.5v1.9M749.90,200.5v-1.9M749.90,48.5v1.9M762.20,200.5v-1.9M762.20,48.5v1.9M774.50,200.5v-3.4M774.50,48.5v3.4M528.5,200.48h3.4M774.5,200.48h-3.4M528.5,195.94h1.9M774.5,195.94h-1.9M528.5,191.41h1.9M774.5,191.41h-1.9M528.5,186.87h1.9M774.5,186.87h-1.9M528.5,182.34h1.9M774.5,182.34h-1.9M528.5,177.80h3.4M774.5,177.80h-3.4M528.5,173.26h1.9M774.5,173.26h-1.9M528.5,168.73h1.9M774.5,168.73h-1.9M528.5,164.19h1.9M774.5,164.19h-1.9M528.5,159.66h1.9M774.5,159.66h-1.9M528.5,155.12h3.4M774.5,155.12h-3.4M528.5,150.58h1.9M774.5,150.58h-1.9M528.5,146.05h1.9M774.5,146.05h-1.9M528.5,141.51h1.9M774.5,141.51h-1.9M528.5,136.98h1.9M774.5,136.98h-1.9M528.5,132.44h3.4M774.5,132.44h-3.4M528.5,127.90h1.9M774.5,127.90h-1.9M528.5,123.37h1.9M774.5,123.37h-1.9M528.5,118.83h1.9M774.5,118.83h-1.9M528.5,114.30h1.9M774.5,114.30h-1.9M528.5,109.76h3.4M774.5,109.76h-3.4M528.5,105.22h1.9M774.5,105.22h-1.9M528.5,100.69h1.9M774.5,100.69h-1.9M528.5,96.15h1.9M774.5,96.15h-1.9M528.5,91.62h1.9M774.5,91.62h-1.9M528.5,87.08h3.4M774.5,87.08h-3.4M528.5,82.54h1.9M774.5,82.54h-1.9M528.5,78.01h1.9M774.5,78.01h-1.9M528.5,73.47h1.9M774.5,73.47h-1.9M528.5,68.94h1.9M774.5,68.94h-1.9M528.5,64.40h3.4M774.5,64.40h-3.4M528.5,59.86h1.9M774.5,59.86h-1.9M528.5,55.33h1.9M774.5,55.33h-1.9M528.5,50.79h1.9M774.5,50.79h-1.9" fill="none" stroke="#606060" stroke-width="0.62"/>
<text x="525.5" y="203.88" font-family='"Liberation Serif", serif' font-size="10.3" text-anchor="end" textLength="21" lengthAdjust="spacing" fill="#000">−157</text>
<text x="525.5" y="181.20" font-family='"Liberation Serif", serif' font-size="10.3" text-anchor="end" textLength="21" lengthAdjust="spacing" fill="#000">−156</text>
<text x="525.5" y="158.52" font-family='"Liberation Serif", serif' font-size="10.3" text-anchor="end" textLength="21" lengthAdjust="spacing" fill="#000">−155</text>
<text x="525.5" y="135.84" font-family='"Liberation Serif", serif' font-size="10.3" text-anchor="end" textLength="21" lengthAdjust="spacing" fill="#000">−154</text>
<text x="525.5" y="113.16" font-family='"Liberation Serif", serif' font-size="10.3" text-anchor="end" textLength="21" lengthAdjust="spacing" fill="#000">−153</text>
<text x="525.5" y="90.48" font-family='"Liberation Serif", serif' font-size="10.3" text-anchor="end" textLength="21" lengthAdjust="spacing" fill="#000">−152</text>
<text x="525.5" y="67.80" font-family='"Liberation Serif", serif' font-size="10.3" text-anchor="end" textLength="21" lengthAdjust="spacing" fill="#000">−151</text>
<text x="528.50" y="214" font-family='"Liberation Serif", serif' font-size="10.3" text-anchor="middle" fill="#000">−1000</text>
<text x="590.00" y="214" font-family='"Liberation Serif", serif' font-size="10.3" text-anchor="middle" fill="#000">−500</text>
<text x="651.50" y="214" font-family='"Liberation Serif", serif' font-size="10.3" text-anchor="middle" fill="#000">0</text>
<text x="713.00" y="214" font-family='"Liberation Serif", serif' font-size="10.3" text-anchor="middle" fill="#000">500</text>
<text x="774.50" y="214" font-family='"Liberation Serif", serif' font-size="10.3" text-anchor="middle" fill="#000">1000</text>
<g font-family='"Liberation Serif", serif' fill="#000"><text x="631.4" y="234.9" font-size="10.4" font-style="italic">f</text><text x="636.2" y="234.9" font-size="10.4">−</text><text x="642.4" y="234.9" font-size="10.4" font-style="italic">f</text><text x="646.1" y="236.7" font-size="6.2">0</text><text x="652.8" y="234.9" font-size="10.4" textLength="19" lengthAdjust="spacing">(Hz)</text></g>
<g transform="translate(492.5,170.3) rotate(-90)" font-family='"Liberation Serif", serif' font-size="10.6" fill="#000"><text x="0" y="0" textLength="37.2" lengthAdjust="spacing">Receiver</text><text x="41.4" y="0" textLength="18.2" lengthAdjust="spacing">PSD</text><text x="62.9" y="0" textLength="30" lengthAdjust="spacing">(dBm)</text></g>
</svg>
</div>
</body></html>
